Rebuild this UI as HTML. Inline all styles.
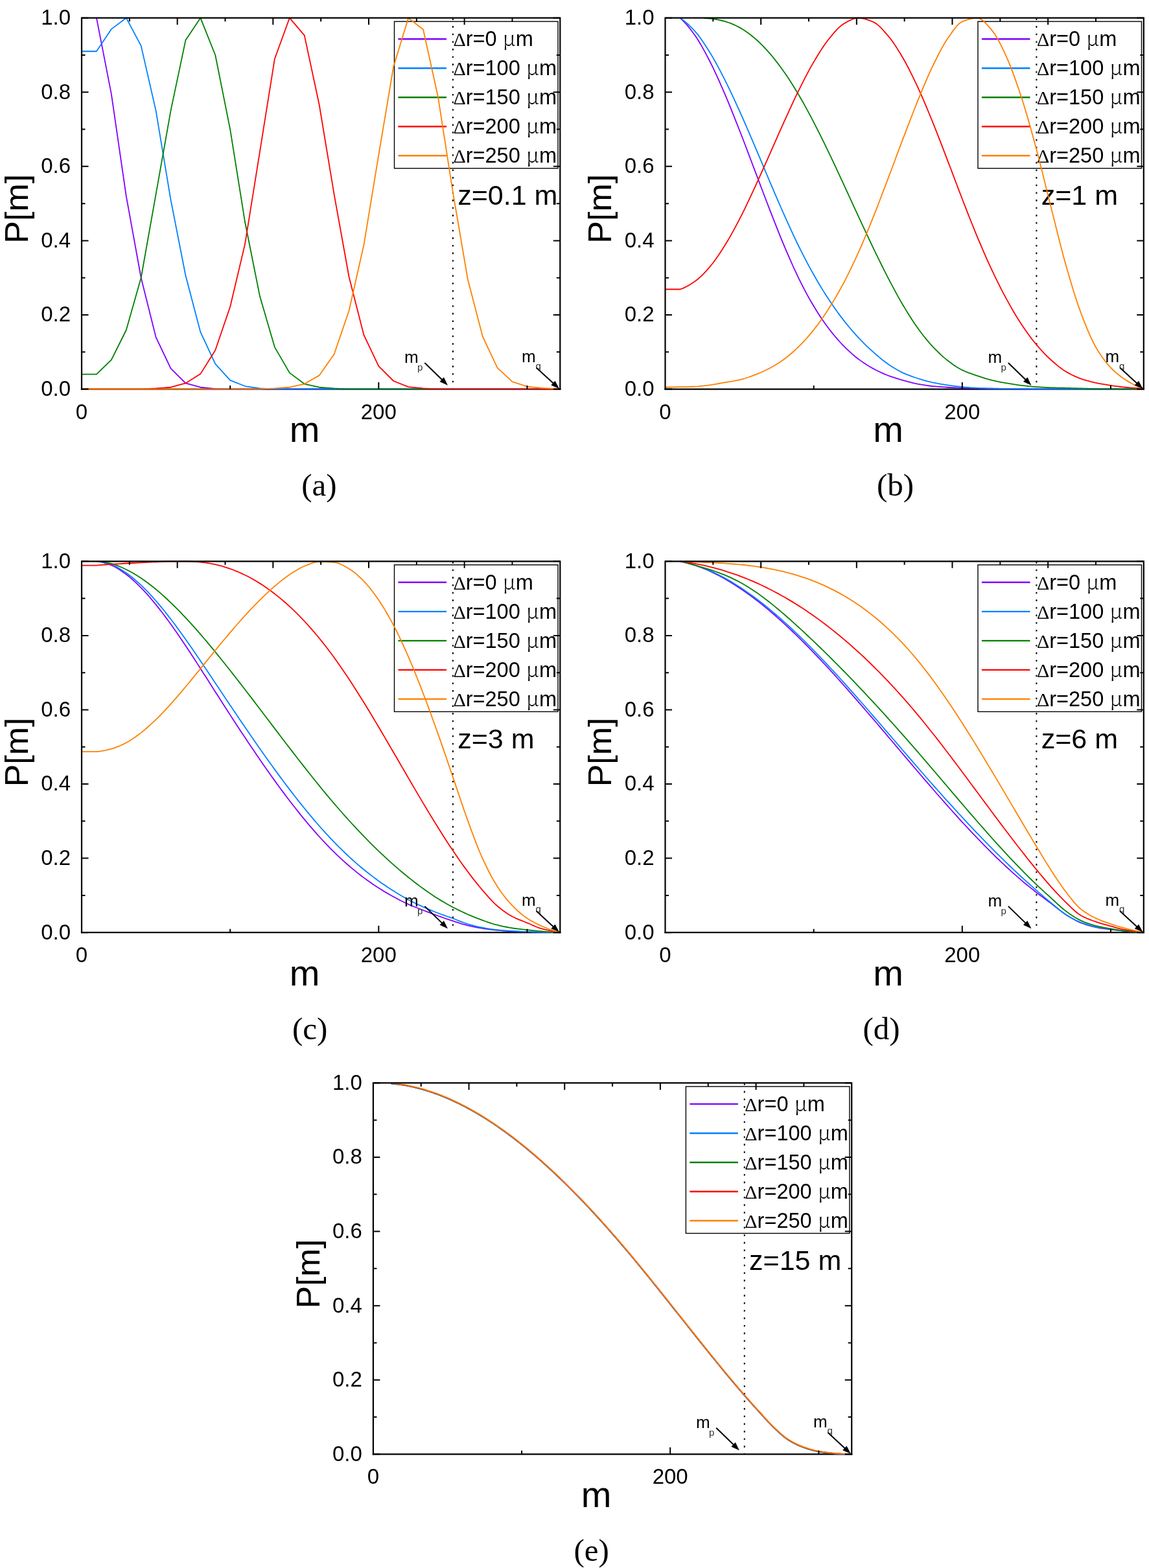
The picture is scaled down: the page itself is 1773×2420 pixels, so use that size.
<!DOCTYPE html>
<html><head><meta charset="utf-8"><title>P[m] vs m</title>
<style>
html,body{margin:0;padding:0;background:#fff;}
body{width:1773px;height:2420px;overflow:hidden;}
svg{display:block;}
</style></head>
<body>
<svg width="1773" height="2420" viewBox="0 0 1773 2420" font-family="&apos;Liberation Sans&apos;, Arial, sans-serif" fill="#000">
<rect width="1773" height="2420" fill="#fff"/>
<path d="M126 600.6H864.3" stroke="#000" stroke-width="2.2" stroke-linecap="square"/>
<text x="109" y="611" text-anchor="end" font-size="33">0.0</text>
<text x="109" y="496.42" text-anchor="end" font-size="33">0.2</text>
<text x="109" y="381.84" text-anchor="end" font-size="33">0.4</text>
<text x="109" y="267.26" text-anchor="end" font-size="33">0.6</text>
<text x="109" y="152.68" text-anchor="end" font-size="33">0.8</text>
<text x="109" y="38.1" text-anchor="end" font-size="33">1.0</text>
<text x="126" y="646.6" text-anchor="middle" font-size="33">0</text>
<text x="584.3" y="646.6" text-anchor="middle" font-size="33">200</text>
<text x="470.2" y="682.3" text-anchor="middle" font-size="56">m</text>
<text transform="translate(42.9 322.3) rotate(-90) scale(1.04 1)" text-anchor="middle" font-size="50">P[m]</text>
<rect x="608.5" y="33.2" width="252.5" height="226.6" fill="none" stroke="#000" stroke-width="1.4"/>
<path d="M614.4 60.2H689" stroke="#8000ff" stroke-width="2.4"/>
<text x="699.4" y="70.9" font-size="32.5"><tspan font-family="&apos;Liberation Serif&apos;, &apos;Times New Roman&apos;, serif" font-size="30">&#916;</tspan>r=0 <tspan font-family="&apos;Noto Serif CJK JP&apos;, &apos;Liberation Serif&apos;, serif" font-weight="300">&#956;</tspan>m</text>
<path d="M614.4 105.23H689" stroke="#0080ff" stroke-width="2.4"/>
<text x="699.4" y="115.93" font-size="32.5"><tspan font-family="&apos;Liberation Serif&apos;, &apos;Times New Roman&apos;, serif" font-size="30">&#916;</tspan>r=100 <tspan font-family="&apos;Noto Serif CJK JP&apos;, &apos;Liberation Serif&apos;, serif" font-weight="300">&#956;</tspan>m</text>
<path d="M614.4 150.26H689" stroke="#008000" stroke-width="2.4"/>
<text x="699.4" y="160.96" font-size="32.5"><tspan font-family="&apos;Liberation Serif&apos;, &apos;Times New Roman&apos;, serif" font-size="30">&#916;</tspan>r=150 <tspan font-family="&apos;Noto Serif CJK JP&apos;, &apos;Liberation Serif&apos;, serif" font-weight="300">&#956;</tspan>m</text>
<path d="M614.4 195.29H689" stroke="#ff0000" stroke-width="2.4"/>
<text x="699.4" y="205.99" font-size="32.5"><tspan font-family="&apos;Liberation Serif&apos;, &apos;Times New Roman&apos;, serif" font-size="30">&#916;</tspan>r=200 <tspan font-family="&apos;Noto Serif CJK JP&apos;, &apos;Liberation Serif&apos;, serif" font-weight="300">&#956;</tspan>m</text>
<path d="M614.4 240.32H689" stroke="#ff8000" stroke-width="2.4"/>
<text x="699.4" y="251.02" font-size="32.5"><tspan font-family="&apos;Liberation Serif&apos;, &apos;Times New Roman&apos;, serif" font-size="30">&#916;</tspan>r=250 <tspan font-family="&apos;Noto Serif CJK JP&apos;, &apos;Liberation Serif&apos;, serif" font-weight="300">&#956;</tspan>m</text>
<text x="706.2" y="316.3" font-size="43">z=0.1 m</text>
<path d="M698.88 600.6V27.7" stroke="#000" stroke-width="2" stroke-dasharray="2.6 9.05" stroke-dashoffset="1.3"/>
<path d="M148.91 27.7 L171.83 145.14 L194.75 302.69 L217.66 428.73 L240.57 520.39 L263.49 568.52 L286.4 591.43 L309.32 597.74 L332.24 600.03 L355.15 600.6 L378.06 600.6 L400.98 600.6 L423.9 600.6 L446.81 600.6 L469.73 600.6 L492.64 600.6 L515.56 600.6 L538.47 600.6 L561.38 600.6 L584.3 600.6 L607.22 600.6 L630.13 600.6 L653.05 600.6 L675.96 600.6 L698.88 600.6 L721.79 600.6 L744.71 600.6 L767.62 600.6 L790.54 600.6 L813.45 600.6 L836.37 600.6 L859.28 600.6 L864.3 600.6" stroke="#8000ff" stroke-width="1.8" fill="none" stroke-linejoin="round"/>
<path d="M126 79.26 L148.91 79.26 L171.83 44.89 L194.75 27.7 L217.66 70.67 L240.57 170.92 L263.49 308.42 L286.4 425.29 L309.32 512.37 L332.24 561.64 L355.15 586.85 L378.06 596.02 L400.98 599.45 L423.9 600.6 L446.81 600.6 L469.73 600.6 L492.64 600.6 L515.56 600.6 L538.47 600.6 L561.38 600.6 L584.3 600.6 L607.22 600.6 L630.13 600.6 L653.05 600.6 L675.96 600.6 L698.88 600.6 L721.79 600.6 L744.71 600.6 L767.62 600.6 L790.54 600.6 L813.45 600.6 L836.37 600.6 L859.28 600.6 L864.3 600.6" stroke="#0080ff" stroke-width="1.8" fill="none" stroke-linejoin="round"/>
<path d="M126 577.68 L148.91 577.68 L171.83 555.34 L194.75 509.51 L217.66 428.73 L240.57 299.83 L263.49 170.92 L286.4 62.07 L309.32 27.7 L332.24 84.99 L355.15 199.57 L378.06 342.8 L400.98 457.37 L423.9 535.86 L446.81 575.39 L469.73 592.58 L492.64 597.74 L515.56 599.45 L538.47 600.6 L561.38 600.6 L584.3 600.6 L607.22 600.6 L630.13 600.6 L653.05 600.6 L675.96 600.6 L698.88 600.6 L721.79 600.6 L744.71 600.6 L767.62 600.6 L790.54 600.6 L813.45 600.6 L836.37 600.6 L859.28 600.6 L864.3 600.6" stroke="#008000" stroke-width="1.8" fill="none" stroke-linejoin="round"/>
<path d="M126 600.6 L148.91 600.6 L171.83 600.6 L194.75 600.6 L217.66 600.6 L240.57 599.45 L263.49 597.74 L286.4 591.43 L309.32 577.11 L332.24 540.45 L355.15 473.42 L378.06 376.6 L400.98 233.94 L423.9 90.72 L446.81 27.7 L469.73 54.63 L492.64 161.76 L515.56 299.83 L538.47 427.01 L561.38 516.96 L584.3 565.08 L607.22 588 L630.13 597.16 L653.05 599.45 L675.96 600.6 L698.88 600.6 L721.79 600.6 L744.71 600.6 L767.62 600.6 L790.54 600.6 L813.45 600.6 L836.37 600.6 L859.28 600.6 L864.3 600.6" stroke="#ff0000" stroke-width="1.8" fill="none" stroke-linejoin="round"/>
<path d="M126 600.6 L148.91 600.6 L171.83 600.6 L194.75 600.6 L217.66 600.6 L240.57 600.6 L263.49 600.6 L286.4 600.6 L309.32 600.6 L332.24 600.6 L355.15 600.6 L378.06 600.6 L400.98 600.6 L423.9 599.45 L446.81 597.74 L469.73 592.58 L492.64 579.4 L515.56 546.75 L538.47 479.72 L561.38 378.31 L584.3 239.1 L607.22 102.75 L630.13 27.7 L653.05 45.46 L675.96 149.73 L698.88 296.96 L721.79 431.02 L744.71 519.25 L767.62 567.94 L790.54 589.14 L813.45 596.59 L836.37 598.88 L859.28 600.03 L864.3 600.03" stroke="#ff8000" stroke-width="1.8" fill="none" stroke-linejoin="round"/>
<path d="M126 600.6V27.7H864.3V600.6" fill="none" stroke="#000" stroke-width="2.2" stroke-linecap="square"/>
<path d="M126 600.6h10.5 M864.3 600.6h-10.5 M126 543.31h5.5 M864.3 543.31h-5.5 M126 486.02h10.5 M864.3 486.02h-10.5 M126 428.73h5.5 M864.3 428.73h-5.5 M126 371.44h10.5 M864.3 371.44h-10.5 M126 314.15h5.5 M864.3 314.15h-5.5 M126 256.86h10.5 M864.3 256.86h-10.5 M126 199.57h5.5 M864.3 199.57h-5.5 M126 142.28h10.5 M864.3 142.28h-10.5 M126 84.99h5.5 M864.3 84.99h-5.5 M126 27.7h10.5 M864.3 27.7h-10.5 M355.15 600.6v-5.5 M584.3 600.6v-10.5 M813.45 600.6v-5.5 M199.83 27.7v5.5 M273.66 27.7v10.5 M347.49 27.7v5.5 M421.32 27.7v10.5 M495.15 27.7v5.5 M568.98 27.7v10.5 M642.81 27.7v5.5 M716.64 27.7v10.5 M790.47 27.7v5.5" stroke="#000" stroke-width="2" fill="none"/>
<text x="624" y="560.3" font-size="26">m</text>
<text x="644" y="571.9" font-size="15" fill="#333">p</text>
<path d="M655.3 560L683.11 587.03" stroke="#000" stroke-width="2"/>
<path d="M691 594.7L678.47 588.94L684.88 582.34Z" fill="#000"/>
<text x="805" y="559.2" font-size="26">m</text>
<text x="826.6" y="569.7" font-size="15" fill="#333">q</text>
<path d="M827.6 567.4L854.91 592.55" stroke="#000" stroke-width="2"/>
<path d="M863 600L850.32 594.58L856.55 587.81Z" fill="#000"/>
<text x="492.5" y="765.3" text-anchor="middle" font-size="49" font-family="&apos;Liberation Serif&apos;, &apos;Times New Roman&apos;, serif">(a)</text>
<path d="M1026.5 600.6H1764.8" stroke="#000" stroke-width="2.2" stroke-linecap="square"/>
<text x="1009.5" y="611" text-anchor="end" font-size="33">0.0</text>
<text x="1009.5" y="496.42" text-anchor="end" font-size="33">0.2</text>
<text x="1009.5" y="381.84" text-anchor="end" font-size="33">0.4</text>
<text x="1009.5" y="267.26" text-anchor="end" font-size="33">0.6</text>
<text x="1009.5" y="152.68" text-anchor="end" font-size="33">0.8</text>
<text x="1009.5" y="38.1" text-anchor="end" font-size="33">1.0</text>
<text x="1026.5" y="646.6" text-anchor="middle" font-size="33">0</text>
<text x="1484.8" y="646.6" text-anchor="middle" font-size="33">200</text>
<text x="1370.7" y="682.3" text-anchor="middle" font-size="56">m</text>
<text transform="translate(943.4 322.3) rotate(-90) scale(1.04 1)" text-anchor="middle" font-size="50">P[m]</text>
<rect x="1509" y="33.2" width="252.5" height="226.6" fill="none" stroke="#000" stroke-width="1.4"/>
<path d="M1514.9 60.2H1589.5" stroke="#8000ff" stroke-width="2.4"/>
<text x="1599.9" y="70.9" font-size="32.5"><tspan font-family="&apos;Liberation Serif&apos;, &apos;Times New Roman&apos;, serif" font-size="30">&#916;</tspan>r=0 <tspan font-family="&apos;Noto Serif CJK JP&apos;, &apos;Liberation Serif&apos;, serif" font-weight="300">&#956;</tspan>m</text>
<path d="M1514.9 105.23H1589.5" stroke="#0080ff" stroke-width="2.4"/>
<text x="1599.9" y="115.93" font-size="32.5"><tspan font-family="&apos;Liberation Serif&apos;, &apos;Times New Roman&apos;, serif" font-size="30">&#916;</tspan>r=100 <tspan font-family="&apos;Noto Serif CJK JP&apos;, &apos;Liberation Serif&apos;, serif" font-weight="300">&#956;</tspan>m</text>
<path d="M1514.9 150.26H1589.5" stroke="#008000" stroke-width="2.4"/>
<text x="1599.9" y="160.96" font-size="32.5"><tspan font-family="&apos;Liberation Serif&apos;, &apos;Times New Roman&apos;, serif" font-size="30">&#916;</tspan>r=150 <tspan font-family="&apos;Noto Serif CJK JP&apos;, &apos;Liberation Serif&apos;, serif" font-weight="300">&#956;</tspan>m</text>
<path d="M1514.9 195.29H1589.5" stroke="#ff0000" stroke-width="2.4"/>
<text x="1599.9" y="205.99" font-size="32.5"><tspan font-family="&apos;Liberation Serif&apos;, &apos;Times New Roman&apos;, serif" font-size="30">&#916;</tspan>r=200 <tspan font-family="&apos;Noto Serif CJK JP&apos;, &apos;Liberation Serif&apos;, serif" font-weight="300">&#956;</tspan>m</text>
<path d="M1514.9 240.32H1589.5" stroke="#ff8000" stroke-width="2.4"/>
<text x="1599.9" y="251.02" font-size="32.5"><tspan font-family="&apos;Liberation Serif&apos;, &apos;Times New Roman&apos;, serif" font-size="30">&#916;</tspan>r=250 <tspan font-family="&apos;Noto Serif CJK JP&apos;, &apos;Liberation Serif&apos;, serif" font-weight="300">&#956;</tspan>m</text>
<text x="1606.7" y="316.3" font-size="43">z=1 m</text>
<path d="M1599.38 600.6V27.7" stroke="#000" stroke-width="2" stroke-dasharray="2.6 9.05" stroke-dashoffset="1.3"/>
<path d="M1049.41 27.7 L1054 32.04 L1058.58 36.95 L1063.16 42.37 L1067.75 48.23 L1072.33 54.48 L1076.91 61.33 L1081.5 68.92 L1086.08 77.09 L1090.66 85.67 L1095.24 94.49 L1099.83 103.67 L1104.41 113.37 L1108.99 123.46 L1113.58 133.85 L1118.16 144.41 L1122.74 155.22 L1127.33 166.38 L1131.91 177.79 L1136.49 189.36 L1141.08 201.01 L1145.66 212.79 L1150.24 224.77 L1154.82 236.86 L1159.41 248.99 L1163.99 261.08 L1168.57 273.18 L1173.16 285.34 L1177.74 297.49 L1182.32 309.54 L1186.9 321.42 L1191.49 333.18 L1196.07 344.89 L1200.65 356.45 L1205.24 367.79 L1209.82 378.8 L1214.4 389.57 L1218.99 400.16 L1223.57 410.49 L1228.15 420.47 L1232.74 430.02 L1237.32 439.18 L1241.9 448.04 L1246.48 456.59 L1251.07 464.77 L1255.65 472.56 L1260.23 480 L1264.82 487.16 L1269.4 494.01 L1273.98 500.55 L1278.57 506.73 L1283.15 512.63 L1287.73 518.27 L1292.31 523.65 L1296.9 528.75 L1301.48 533.55 L1306.06 538.1 L1310.65 542.45 L1315.23 546.57 L1319.81 550.44 L1324.39 554.03 L1328.98 557.37 L1333.56 560.53 L1338.14 563.5 L1342.73 566.28 L1347.31 568.85 L1351.89 571.27 L1356.48 573.54 L1361.06 575.68 L1365.64 577.66 L1370.22 579.48 L1374.81 581.16 L1379.39 582.71 L1383.97 584.16 L1388.56 585.54 L1393.14 586.85 L1397.72 588.13 L1402.31 589.38 L1406.89 590.56 L1411.47 591.64 L1416.06 592.58 L1420.64 593.41 L1425.22 594.19 L1429.8 594.89 L1434.39 595.5 L1438.97 596.02 L1443.55 596.44 L1448.14 596.82 L1452.72 597.15 L1457.3 597.45 L1461.88 597.74 L1466.47 598.01 L1471.05 598.26 L1475.63 598.5 L1480.22 598.71 L1484.8 598.88 L1489.38 599.02 L1493.97 599.14 L1498.55 599.24 L1503.13 599.35 L1507.72 599.45 L1512.3 599.59 L1516.88 599.74 L1521.46 599.88 L1526.05 599.99 L1530.63 600.03 L1535.21 600.03 L1539.8 600.03 L1544.38 600.03 L1548.96 600.03 L1553.55 600.03 L1558.13 600.09 L1562.71 600.23 L1567.29 600.4 L1571.88 600.54 L1576.46 600.6 L1581.04 600.6 L1585.63 600.6 L1590.21 600.6 L1594.79 600.6 L1599.38 600.6 L1603.96 600.6 L1608.54 600.6 L1613.12 600.6 L1617.71 600.6 L1622.29 600.6 L1626.87 600.6 L1631.46 600.6 L1636.04 600.6 L1640.62 600.6 L1645.2 600.6 L1649.79 600.6 L1654.37 600.6 L1658.95 600.6 L1663.54 600.6 L1668.12 600.6 L1672.7 600.6 L1677.29 600.6 L1681.87 600.6 L1686.45 600.6 L1691.04 600.6 L1695.62 600.6 L1700.2 600.6 L1704.78 600.6 L1709.37 600.6 L1713.95 600.6 L1718.53 600.6 L1723.12 600.6 L1727.7 600.6 L1732.28 600.6 L1736.87 600.6 L1741.45 600.6 L1746.03 600.6 L1750.61 600.6 L1755.2 600.6 L1759.78 600.6 L1764.8 600.6" stroke="#8000ff" stroke-width="1.8" fill="none" stroke-linejoin="round"/>
<path d="M1049.41 27.7 L1054 30.89 L1058.58 34.6 L1063.16 38.77 L1067.75 43.34 L1072.33 48.23 L1076.91 53.66 L1081.5 59.79 L1086.08 66.46 L1090.66 73.5 L1095.24 80.77 L1099.83 88.37 L1104.41 96.46 L1108.99 104.93 L1113.58 113.69 L1118.16 122.62 L1122.74 131.81 L1127.33 141.34 L1131.91 151.13 L1136.49 161.11 L1141.08 171.19 L1145.66 181.42 L1150.24 191.88 L1154.82 202.48 L1159.41 213.16 L1163.99 223.86 L1168.57 234.61 L1173.16 245.47 L1177.74 256.37 L1182.32 267.25 L1186.9 278.03 L1191.49 288.78 L1196.07 299.53 L1200.65 310.21 L1205.24 320.76 L1209.82 331.11 L1214.4 341.31 L1218.99 351.42 L1223.57 361.35 L1228.15 371.07 L1232.74 380.49 L1237.32 389.65 L1241.9 398.62 L1246.48 407.35 L1251.07 415.84 L1255.65 424.06 L1260.23 432.04 L1264.82 439.81 L1269.4 447.35 L1273.98 454.66 L1278.57 461.73 L1283.15 468.57 L1287.73 475.22 L1292.31 481.66 L1296.9 487.88 L1301.48 493.88 L1306.06 499.66 L1310.65 505.27 L1315.23 510.69 L1319.81 515.9 L1324.39 520.9 L1328.98 525.7 L1333.56 530.32 L1338.14 534.78 L1342.73 539.07 L1347.31 543.2 L1351.89 547.24 L1356.48 551.18 L1361.06 554.96 L1365.64 558.53 L1370.22 561.82 L1374.81 564.9 L1379.39 567.82 L1383.97 570.56 L1388.56 573.08 L1393.14 575.34 L1397.72 577.35 L1402.31 579.2 L1406.89 580.9 L1411.47 582.49 L1416.06 583.99 L1420.64 585.42 L1425.22 586.78 L1429.8 588.06 L1434.39 589.24 L1438.97 590.29 L1443.55 591.23 L1448.14 592.08 L1452.72 592.88 L1457.3 593.61 L1461.88 594.3 L1466.47 594.96 L1471.05 595.58 L1475.63 596.17 L1480.22 596.7 L1484.8 597.16 L1489.38 597.59 L1493.97 597.99 L1498.55 598.36 L1503.13 598.66 L1507.72 598.88 L1512.3 599.03 L1516.88 599.15 L1521.46 599.25 L1526.05 599.35 L1530.63 599.45 L1535.21 599.59 L1539.8 599.74 L1544.38 599.88 L1548.96 599.99 L1553.55 600.03 L1558.13 600.03 L1562.71 600.03 L1567.29 600.03 L1571.88 600.03 L1576.46 600.03 L1581.04 600.09 L1585.63 600.23 L1590.21 600.4 L1594.79 600.54 L1599.38 600.6 L1603.96 600.6 L1608.54 600.6 L1613.12 600.6 L1617.71 600.6 L1622.29 600.6 L1626.87 600.6 L1631.46 600.6 L1636.04 600.6 L1640.62 600.6 L1645.2 600.6 L1649.79 600.6 L1654.37 600.6 L1658.95 600.6 L1663.54 600.6 L1668.12 600.6 L1672.7 600.6 L1677.29 600.6 L1681.87 600.6 L1686.45 600.6 L1691.04 600.6 L1695.62 600.6 L1700.2 600.6 L1704.78 600.6 L1709.37 600.6 L1713.95 600.6 L1718.53 600.6 L1723.12 600.6 L1727.7 600.6 L1732.28 600.6 L1736.87 600.6 L1741.45 600.6 L1746.03 600.6 L1750.61 600.6 L1755.2 600.6 L1759.78 600.6 L1764.8 600.6" stroke="#0080ff" stroke-width="1.8" fill="none" stroke-linejoin="round"/>
<path d="M1086.08 28.06 L1090.66 28.31 L1095.24 28.59 L1099.83 29.04 L1104.41 29.75 L1108.99 30.68 L1113.58 31.75 L1118.16 32.91 L1122.74 34.27 L1127.33 35.95 L1131.91 37.9 L1136.49 40.06 L1141.08 42.38 L1145.66 44.98 L1150.24 47.96 L1154.82 51.25 L1159.41 54.79 L1163.99 58.51 L1168.57 62.49 L1173.16 66.83 L1177.74 71.47 L1182.32 76.36 L1186.9 81.44 L1191.49 86.78 L1196.07 92.44 L1200.65 98.38 L1205.24 104.57 L1209.82 110.96 L1214.4 117.61 L1218.99 124.55 L1223.57 131.77 L1228.15 139.21 L1232.74 146.85 L1237.32 154.74 L1241.9 162.91 L1246.48 171.32 L1251.07 179.92 L1255.65 188.64 L1260.23 197.55 L1264.82 206.66 L1269.4 215.95 L1273.98 225.36 L1278.57 234.84 L1283.15 244.42 L1287.73 254.14 L1292.31 263.95 L1296.9 273.81 L1301.48 283.68 L1306.06 293.59 L1310.65 303.56 L1315.23 313.55 L1319.81 323.52 L1324.39 333.42 L1328.98 343.3 L1333.56 353.17 L1338.14 362.99 L1342.73 372.71 L1347.31 382.3 L1351.89 391.79 L1356.48 401.21 L1361.06 410.52 L1365.64 419.65 L1370.22 428.57 L1374.81 437.32 L1379.39 445.95 L1383.97 454.39 L1388.56 462.58 L1393.14 470.47 L1397.72 478.12 L1402.31 485.59 L1406.89 492.81 L1411.47 499.72 L1416.06 506.25 L1420.64 512.47 L1425.22 518.45 L1429.8 524.15 L1434.39 529.55 L1438.97 534.61 L1443.55 539.4 L1448.14 543.98 L1452.72 548.31 L1457.3 552.35 L1461.88 556.08 L1466.47 559.57 L1471.05 562.9 L1475.63 565.99 L1480.22 568.78 L1484.8 571.19 L1489.38 573.25 L1493.97 575.07 L1498.55 576.72 L1503.13 578.28 L1507.72 579.82 L1512.3 581.36 L1516.88 582.88 L1521.46 584.32 L1526.05 585.66 L1530.63 586.85 L1535.21 587.91 L1539.8 588.89 L1544.38 589.79 L1548.96 590.63 L1553.55 591.43 L1558.13 592.21 L1562.71 592.95 L1567.29 593.64 L1571.88 594.29 L1576.46 594.87 L1581.04 595.41 L1585.63 595.93 L1590.21 596.4 L1594.79 596.82 L1599.38 597.16 L1603.96 597.45 L1608.54 597.71 L1613.12 597.94 L1617.71 598.14 L1622.29 598.31 L1626.87 598.45 L1631.46 598.57 L1636.04 598.67 L1640.62 598.77 L1645.2 598.88 L1649.79 599 L1654.37 599.11 L1658.95 599.23 L1663.54 599.34 L1668.12 599.45 L1672.7 599.59 L1677.29 599.74 L1681.87 599.88 L1686.45 599.99 L1691.04 600.03 L1695.62 600.03 L1700.2 600.03 L1704.78 600.03 L1709.37 600.03 L1713.95 600.03 L1718.53 600.09 L1723.12 600.23 L1727.7 600.4 L1732.28 600.54 L1736.87 600.6 L1741.45 600.6 L1746.03 600.6 L1750.61 600.6 L1755.2 600.6 L1759.78 600.6 L1764.8 600.6" stroke="#008000" stroke-width="1.8" fill="none" stroke-linejoin="round"/>
<path d="M1026.5 446.49 L1049.41 446.49 L1054 444.81 L1058.58 442.68 L1063.16 440.16 L1067.75 437.34 L1072.33 434.27 L1076.91 430.76 L1081.5 426.65 L1086.08 422.06 L1090.66 417.09 L1095.24 411.87 L1099.83 406.25 L1104.41 400.08 L1108.99 393.46 L1113.58 386.51 L1118.16 379.33 L1122.74 371.84 L1127.33 363.91 L1131.91 355.63 L1136.49 347.09 L1141.08 338.36 L1145.66 329.36 L1150.24 320.04 L1154.82 310.46 L1159.41 300.71 L1163.99 290.88 L1168.57 280.91 L1173.16 270.73 L1177.74 260.43 L1182.32 250.08 L1186.9 239.77 L1191.49 229.43 L1196.07 219.03 L1200.65 208.62 L1205.24 198.3 L1209.82 188.13 L1214.4 178.07 L1218.99 168.05 L1223.57 158.15 L1228.15 148.47 L1232.74 139.08 L1237.32 129.91 L1241.9 120.89 L1246.48 112.11 L1251.07 103.67 L1255.65 95.67 L1260.23 87.99 L1264.82 80.51 L1269.4 73.38 L1273.98 66.74 L1278.57 60.73 L1283.15 55.09 L1287.73 49.62 L1292.31 44.61 L1296.9 40.33 L1301.48 37.05 L1306.06 34.37 L1310.65 31.83 L1315.23 29.71 L1319.81 28.24 L1324.39 27.7 L1328.98 28.03 L1333.56 28.94 L1338.14 30.29 L1342.73 31.96 L1347.31 33.81 L1351.89 36.4 L1356.48 40.15 L1361.06 44.73 L1365.64 49.81 L1370.22 55.07 L1374.81 60.73 L1379.39 67.13 L1383.97 74.11 L1388.56 81.52 L1393.14 89.21 L1397.72 97.3 L1402.31 105.96 L1406.89 115.08 L1411.47 124.55 L1416.06 134.26 L1420.64 144.32 L1425.22 154.83 L1429.8 165.67 L1434.39 176.75 L1438.97 187.96 L1443.55 199.36 L1448.14 211.05 L1452.72 222.91 L1457.3 234.87 L1461.88 246.81 L1466.47 258.8 L1471.05 270.91 L1475.63 283.05 L1480.22 295.11 L1484.8 307.02 L1489.38 318.82 L1493.97 330.59 L1498.55 342.23 L1503.13 353.66 L1507.72 364.8 L1512.3 375.68 L1516.88 386.37 L1521.46 396.84 L1526.05 407.03 L1530.63 416.92 L1535.21 426.54 L1539.8 435.93 L1544.38 445.07 L1548.96 453.92 L1553.55 462.44 L1558.13 470.68 L1562.71 478.7 L1567.29 486.45 L1571.88 493.89 L1576.46 500.97 L1581.04 507.76 L1585.63 514.31 L1590.21 520.58 L1594.79 526.54 L1599.38 532.14 L1603.96 537.43 L1608.54 542.47 L1613.12 547.26 L1617.71 551.77 L1622.29 556 L1626.87 560.03 L1631.46 563.92 L1636.04 567.57 L1640.62 570.89 L1645.2 573.81 L1649.79 576.39 L1654.37 578.76 L1658.95 580.92 L1663.54 582.85 L1668.12 584.56 L1672.7 586.07 L1677.29 587.45 L1681.87 588.7 L1686.45 589.83 L1691.04 590.86 L1695.62 591.8 L1700.2 592.66 L1704.78 593.45 L1709.37 594.18 L1713.95 594.87 L1718.53 595.53 L1723.12 596.15 L1727.7 596.74 L1732.28 597.27 L1736.87 597.74 L1741.45 598.15 L1746.03 598.54 L1750.61 598.89 L1755.2 599.2 L1759.78 599.45 L1764.8 599.45" stroke="#ff0000" stroke-width="1.8" fill="none" stroke-linejoin="round"/>
<path d="M1026.5 597.74 L1049.41 597.16 L1054 597.13 L1058.58 597.05 L1063.16 596.92 L1067.75 596.77 L1072.33 596.59 L1076.91 596.33 L1081.5 595.93 L1086.08 595.44 L1090.66 594.88 L1095.24 594.3 L1099.83 593.64 L1104.41 592.85 L1108.99 592 L1113.58 591.12 L1118.16 590.29 L1122.74 589.52 L1127.33 588.8 L1131.91 588.05 L1136.49 587.23 L1141.08 586.28 L1145.66 585.12 L1150.24 583.75 L1154.82 582.23 L1159.41 580.59 L1163.99 578.9 L1168.57 577.13 L1173.16 575.24 L1177.74 573.22 L1182.32 571.06 L1186.9 568.76 L1191.49 566.28 L1196.07 563.59 L1200.65 560.72 L1205.24 557.66 L1209.82 554.43 L1214.4 550.97 L1218.99 547.25 L1223.57 543.28 L1228.15 539.1 L1232.74 534.73 L1237.32 530.13 L1241.9 525.23 L1246.48 520.07 L1251.07 514.67 L1255.65 509.06 L1260.23 503.17 L1264.82 496.98 L1269.4 490.51 L1273.98 483.76 L1278.57 476.78 L1283.15 469.51 L1287.73 461.91 L1292.31 454 L1296.9 445.81 L1301.48 437.35 L1306.06 428.57 L1310.65 419.43 L1315.23 409.97 L1319.81 400.21 L1324.39 390.2 L1328.98 379.85 L1333.56 369.11 L1338.14 358.07 L1342.73 346.83 L1347.31 335.45 L1351.89 323.87 L1356.48 312.04 L1361.06 300.03 L1365.64 287.94 L1370.22 275.86 L1374.81 263.71 L1379.39 251.46 L1383.97 239.18 L1388.56 226.95 L1393.14 214.86 L1397.72 202.84 L1402.31 190.84 L1406.89 178.95 L1411.47 167.27 L1416.06 155.89 L1420.64 144.71 L1425.22 133.64 L1429.8 122.85 L1434.39 112.48 L1438.97 102.68 L1443.55 93.25 L1448.14 84.04 L1452.72 75.28 L1457.3 67.23 L1461.88 60.11 L1466.47 53.42 L1471.05 46.86 L1475.63 40.97 L1480.22 36.29 L1484.8 33.36 L1489.38 31.58 L1493.97 30.02 L1498.55 28.8 L1503.13 27.99 L1507.72 27.7 L1512.3 28.84 L1516.88 31.87 L1521.46 36.24 L1526.05 41.37 L1530.63 46.7 L1535.21 52.84 L1539.8 60.51 L1544.38 69.33 L1548.96 78.93 L1553.55 88.93 L1558.13 99.62 L1562.71 111.42 L1567.29 124.1 L1571.88 137.46 L1576.46 151.27 L1581.04 165.75 L1585.63 181.13 L1590.21 197.2 L1594.79 213.79 L1599.38 230.68 L1603.96 248.15 L1608.54 266.37 L1613.12 284.98 L1617.71 303.61 L1622.29 321.9 L1626.87 340.11 L1631.46 358.48 L1636.04 376.62 L1640.62 394.18 L1645.2 410.78 L1649.79 426.62 L1654.37 442.01 L1658.95 456.75 L1663.54 470.62 L1668.12 483.43 L1672.7 495.43 L1677.29 506.91 L1681.87 517.64 L1686.45 527.39 L1691.04 535.95 L1695.62 543.53 L1700.2 550.48 L1704.78 556.8 L1709.37 562.48 L1713.95 567.51 L1718.53 572.01 L1723.12 576.1 L1727.7 579.82 L1732.28 583.2 L1736.87 586.28 L1741.45 589.13 L1746.03 591.79 L1750.61 594.23 L1755.2 596.42 L1759.78 598.31 L1764.8 598.31" stroke="#ff8000" stroke-width="1.8" fill="none" stroke-linejoin="round"/>
<path d="M1026.5 600.6V27.7H1764.8V600.6" fill="none" stroke="#000" stroke-width="2.2" stroke-linecap="square"/>
<path d="M1026.5 600.6h10.5 M1764.8 600.6h-10.5 M1026.5 543.31h5.5 M1764.8 543.31h-5.5 M1026.5 486.02h10.5 M1764.8 486.02h-10.5 M1026.5 428.73h5.5 M1764.8 428.73h-5.5 M1026.5 371.44h10.5 M1764.8 371.44h-10.5 M1026.5 314.15h5.5 M1764.8 314.15h-5.5 M1026.5 256.86h10.5 M1764.8 256.86h-10.5 M1026.5 199.57h5.5 M1764.8 199.57h-5.5 M1026.5 142.28h10.5 M1764.8 142.28h-10.5 M1026.5 84.99h5.5 M1764.8 84.99h-5.5 M1026.5 27.7h10.5 M1764.8 27.7h-10.5 M1255.65 600.6v-5.5 M1484.8 600.6v-10.5 M1713.95 600.6v-5.5 M1100.33 27.7v5.5 M1174.16 27.7v10.5 M1247.99 27.7v5.5 M1321.82 27.7v10.5 M1395.65 27.7v5.5 M1469.48 27.7v10.5 M1543.31 27.7v5.5 M1617.14 27.7v10.5 M1690.97 27.7v5.5" stroke="#000" stroke-width="2" fill="none"/>
<text x="1524.5" y="560.3" font-size="26">m</text>
<text x="1544.5" y="571.9" font-size="15" fill="#333">p</text>
<path d="M1555.8 560L1583.61 587.03" stroke="#000" stroke-width="2"/>
<path d="M1591.5 594.7L1578.97 588.94L1585.38 582.34Z" fill="#000"/>
<text x="1705.5" y="559.2" font-size="26">m</text>
<text x="1727.1" y="569.7" font-size="15" fill="#333">q</text>
<path d="M1728.1 567.4L1755.41 592.55" stroke="#000" stroke-width="2"/>
<path d="M1763.5 600L1750.82 594.58L1757.05 587.81Z" fill="#000"/>
<text x="1381.5" y="765.3" text-anchor="middle" font-size="49" font-family="&apos;Liberation Serif&apos;, &apos;Times New Roman&apos;, serif">(b)</text>
<path d="M126 1439.2H864.3" stroke="#000" stroke-width="2.2" stroke-linecap="square"/>
<text x="109" y="1449.6" text-anchor="end" font-size="33">0.0</text>
<text x="109" y="1335.02" text-anchor="end" font-size="33">0.2</text>
<text x="109" y="1220.44" text-anchor="end" font-size="33">0.4</text>
<text x="109" y="1105.86" text-anchor="end" font-size="33">0.6</text>
<text x="109" y="991.28" text-anchor="end" font-size="33">0.8</text>
<text x="109" y="876.7" text-anchor="end" font-size="33">1.0</text>
<text x="126" y="1485.2" text-anchor="middle" font-size="33">0</text>
<text x="584.3" y="1485.2" text-anchor="middle" font-size="33">200</text>
<text x="470.2" y="1520.9" text-anchor="middle" font-size="56">m</text>
<text transform="translate(42.9 1160.9) rotate(-90) scale(1.04 1)" text-anchor="middle" font-size="50">P[m]</text>
<rect x="608.5" y="871.8" width="252.5" height="226.6" fill="none" stroke="#000" stroke-width="1.4"/>
<path d="M614.4 898.8H689" stroke="#8000ff" stroke-width="2.4"/>
<text x="699.4" y="909.5" font-size="32.5"><tspan font-family="&apos;Liberation Serif&apos;, &apos;Times New Roman&apos;, serif" font-size="30">&#916;</tspan>r=0 <tspan font-family="&apos;Noto Serif CJK JP&apos;, &apos;Liberation Serif&apos;, serif" font-weight="300">&#956;</tspan>m</text>
<path d="M614.4 943.83H689" stroke="#0080ff" stroke-width="2.4"/>
<text x="699.4" y="954.53" font-size="32.5"><tspan font-family="&apos;Liberation Serif&apos;, &apos;Times New Roman&apos;, serif" font-size="30">&#916;</tspan>r=100 <tspan font-family="&apos;Noto Serif CJK JP&apos;, &apos;Liberation Serif&apos;, serif" font-weight="300">&#956;</tspan>m</text>
<path d="M614.4 988.86H689" stroke="#008000" stroke-width="2.4"/>
<text x="699.4" y="999.56" font-size="32.5"><tspan font-family="&apos;Liberation Serif&apos;, &apos;Times New Roman&apos;, serif" font-size="30">&#916;</tspan>r=150 <tspan font-family="&apos;Noto Serif CJK JP&apos;, &apos;Liberation Serif&apos;, serif" font-weight="300">&#956;</tspan>m</text>
<path d="M614.4 1033.89H689" stroke="#ff0000" stroke-width="2.4"/>
<text x="699.4" y="1044.59" font-size="32.5"><tspan font-family="&apos;Liberation Serif&apos;, &apos;Times New Roman&apos;, serif" font-size="30">&#916;</tspan>r=200 <tspan font-family="&apos;Noto Serif CJK JP&apos;, &apos;Liberation Serif&apos;, serif" font-weight="300">&#956;</tspan>m</text>
<path d="M614.4 1078.92H689" stroke="#ff8000" stroke-width="2.4"/>
<text x="699.4" y="1089.62" font-size="32.5"><tspan font-family="&apos;Liberation Serif&apos;, &apos;Times New Roman&apos;, serif" font-size="30">&#916;</tspan>r=250 <tspan font-family="&apos;Noto Serif CJK JP&apos;, &apos;Liberation Serif&apos;, serif" font-weight="300">&#956;</tspan>m</text>
<text x="706.2" y="1154.9" font-size="43">z=3 m</text>
<path d="M698.88 1439.2V866.3" stroke="#000" stroke-width="2" stroke-dasharray="2.6 9.05" stroke-dashoffset="1.3"/>
<path d="M148.91 866.3 L153.5 866.94 L158.08 867.95 L162.66 869.26 L167.25 870.78 L171.83 872.44 L176.41 874.47 L181 877.03 L185.58 879.98 L190.16 883.2 L194.75 886.53 L199.33 890.08 L203.91 893.99 L208.49 898.18 L213.08 902.59 L217.66 907.14 L222.24 911.89 L226.83 916.91 L231.41 922.16 L235.99 927.58 L240.57 933.12 L245.16 938.82 L249.74 944.73 L254.32 950.81 L258.91 957.02 L263.49 963.32 L268.07 969.73 L272.66 976.3 L277.24 982.98 L281.82 989.75 L286.4 996.58 L290.99 1003.47 L295.57 1010.47 L300.15 1017.53 L304.74 1024.63 L309.32 1031.75 L313.9 1038.89 L318.49 1046.08 L323.07 1053.29 L327.65 1060.5 L332.24 1067.68 L336.82 1074.85 L341.4 1082.01 L345.98 1089.16 L350.57 1096.28 L355.15 1103.37 L359.73 1110.42 L364.32 1117.45 L368.9 1124.46 L373.48 1131.42 L378.06 1138.33 L382.65 1145.21 L387.23 1152.05 L391.81 1158.84 L396.4 1165.59 L400.98 1172.27 L405.56 1178.9 L410.15 1185.48 L414.73 1192.01 L419.31 1198.47 L423.9 1204.85 L428.48 1211.17 L433.06 1217.43 L437.64 1223.62 L442.23 1229.73 L446.81 1235.76 L451.39 1241.7 L455.98 1247.57 L460.56 1253.37 L465.14 1259.07 L469.73 1264.66 L474.31 1270.17 L478.89 1275.59 L483.47 1280.92 L488.06 1286.15 L492.64 1291.25 L497.22 1296.25 L501.81 1301.16 L506.39 1305.96 L510.97 1310.64 L515.56 1315.2 L520.14 1319.63 L524.72 1323.96 L529.3 1328.18 L533.89 1332.29 L538.47 1336.27 L543.05 1340.15 L547.64 1343.93 L552.22 1347.6 L556.8 1351.17 L561.38 1354.62 L565.97 1357.98 L570.55 1361.25 L575.13 1364.42 L579.72 1367.5 L584.3 1370.48 L588.88 1373.36 L593.47 1376.17 L598.05 1378.89 L602.63 1381.52 L607.22 1384.07 L611.8 1386.54 L616.38 1388.96 L620.96 1391.29 L625.55 1393.52 L630.13 1395.63 L634.71 1397.6 L639.3 1399.46 L643.88 1401.25 L648.46 1403.01 L653.05 1404.78 L657.63 1406.56 L662.21 1408.33 L666.79 1410.07 L671.38 1411.79 L675.96 1413.47 L680.54 1415.13 L685.13 1416.76 L689.71 1418.36 L694.29 1419.91 L698.88 1421.42 L703.46 1422.91 L708.04 1424.38 L712.62 1425.8 L717.21 1427.13 L721.79 1428.31 L726.37 1429.38 L730.96 1430.38 L735.54 1431.31 L740.12 1432.15 L744.71 1432.9 L749.29 1433.58 L753.87 1434.21 L758.45 1434.78 L763.04 1435.3 L767.62 1435.76 L772.2 1436.19 L776.79 1436.59 L781.37 1436.96 L785.95 1437.26 L790.54 1437.48 L795.12 1437.63 L799.7 1437.75 L804.28 1437.85 L808.87 1437.95 L813.45 1438.05 L818.03 1438.17 L822.62 1438.28 L827.2 1438.4 L831.78 1438.51 L836.37 1438.63 L840.95 1438.74 L845.53 1438.86 L850.11 1438.97 L854.7 1439.09 L859.28 1439.2 L864.3 1439.2" stroke="#8000ff" stroke-width="1.8" fill="none" stroke-linejoin="round"/>
<path d="M153.5 866.77 L158.08 867.6 L162.66 868.71 L167.25 870.01 L171.83 871.44 L176.41 873.22 L181 875.53 L185.58 878.22 L190.16 881.16 L194.75 884.2 L199.33 887.45 L203.91 891.04 L208.49 894.9 L213.08 898.96 L217.66 903.16 L222.24 907.55 L226.83 912.21 L231.41 917.08 L235.99 922.11 L240.57 927.27 L245.16 932.58 L249.74 938.09 L254.32 943.77 L258.91 949.58 L263.49 955.48 L268.07 961.49 L272.66 967.66 L277.24 973.94 L281.82 980.31 L286.4 986.74 L290.99 993.24 L295.57 999.85 L300.15 1006.53 L304.74 1013.26 L309.32 1020 L313.9 1026.79 L318.49 1033.62 L323.07 1040.49 L327.65 1047.37 L332.24 1054.23 L336.82 1061.09 L341.4 1067.95 L345.98 1074.81 L350.57 1081.66 L355.15 1088.49 L359.73 1095.3 L364.32 1102.1 L368.9 1108.88 L373.48 1115.63 L378.06 1122.35 L382.65 1129.04 L387.23 1135.71 L391.81 1142.34 L396.4 1148.94 L400.98 1155.49 L405.56 1162 L410.15 1168.48 L414.73 1174.91 L419.31 1181.3 L423.9 1187.62 L428.48 1193.88 L433.06 1200.11 L437.64 1206.27 L442.23 1212.38 L446.81 1218.4 L451.39 1224.37 L455.98 1230.27 L460.56 1236.11 L465.14 1241.87 L469.73 1247.54 L474.31 1253.14 L478.89 1258.67 L483.47 1264.12 L488.06 1269.47 L492.64 1274.73 L497.22 1279.89 L501.81 1284.97 L506.39 1289.97 L510.97 1294.86 L515.56 1299.64 L520.14 1304.31 L524.72 1308.9 L529.3 1313.38 L533.89 1317.77 L538.47 1322.05 L543.05 1326.22 L547.64 1330.31 L552.22 1334.31 L556.8 1338.21 L561.38 1342 L565.97 1345.71 L570.55 1349.33 L575.13 1352.86 L579.72 1356.3 L584.3 1359.65 L588.88 1362.91 L593.47 1366.09 L598.05 1369.18 L602.63 1372.19 L607.22 1375.11 L611.8 1377.96 L616.38 1380.74 L620.96 1383.43 L625.55 1386.04 L630.13 1388.53 L634.71 1390.93 L639.3 1393.23 L643.88 1395.46 L648.46 1397.61 L653.05 1399.71 L657.63 1401.74 L662.21 1403.7 L666.79 1405.62 L671.38 1407.47 L675.96 1409.27 L680.54 1410.99 L685.13 1412.63 L689.71 1414.24 L694.29 1415.85 L698.88 1417.5 L703.46 1419.24 L708.04 1421.05 L712.62 1422.84 L717.21 1424.53 L721.79 1426.02 L726.37 1427.36 L730.96 1428.61 L735.54 1429.77 L740.12 1430.83 L744.71 1431.75 L749.29 1432.59 L753.87 1433.36 L758.45 1434.06 L763.04 1434.68 L767.62 1435.19 L772.2 1435.62 L776.79 1435.99 L781.37 1436.33 L785.95 1436.63 L790.54 1436.91 L795.12 1437.18 L799.7 1437.44 L804.28 1437.67 L808.87 1437.88 L813.45 1438.05 L818.03 1438.19 L822.62 1438.31 L827.2 1438.42 L831.78 1438.52 L836.37 1438.63 L840.95 1438.74 L845.53 1438.86 L850.11 1438.97 L854.7 1439.09 L859.28 1439.2 L864.3 1439.2" stroke="#0080ff" stroke-width="1.8" fill="none" stroke-linejoin="round"/>
<path d="M153.5 866.63 L158.08 867.21 L162.66 867.98 L167.25 868.9 L171.83 869.91 L176.41 871.17 L181 872.8 L185.58 874.71 L190.16 876.79 L194.75 878.94 L199.33 881.23 L203.91 883.76 L208.49 886.48 L213.08 889.35 L217.66 892.32 L222.24 895.44 L226.83 898.75 L231.41 902.23 L235.99 905.83 L240.57 909.53 L245.16 913.37 L249.74 917.36 L254.32 921.48 L258.91 925.72 L263.49 930.05 L268.07 934.49 L272.66 939.05 L277.24 943.73 L281.82 948.51 L286.4 953.35 L290.99 958.29 L295.57 963.33 L300.15 968.46 L304.74 973.66 L309.32 978.92 L313.9 984.24 L318.49 989.65 L323.07 995.13 L327.65 1000.66 L332.24 1006.22 L336.82 1011.84 L341.4 1017.52 L345.98 1023.24 L350.57 1029 L355.15 1034.78 L359.73 1040.61 L364.32 1046.47 L368.9 1052.37 L373.48 1058.29 L378.06 1064.22 L382.65 1070.18 L387.23 1076.17 L391.81 1082.17 L396.4 1088.18 L400.98 1094.2 L405.56 1100.22 L410.15 1106.26 L414.73 1112.3 L419.31 1118.34 L423.9 1124.37 L428.48 1130.39 L433.06 1136.42 L437.64 1142.43 L442.23 1148.43 L446.81 1154.4 L451.39 1160.35 L455.98 1166.29 L460.56 1172.2 L465.14 1178.09 L469.73 1183.93 L474.31 1189.75 L478.89 1195.53 L483.47 1201.28 L488.06 1206.99 L492.64 1212.64 L497.22 1218.24 L501.81 1223.81 L506.39 1229.32 L510.97 1234.78 L515.56 1240.17 L520.14 1245.5 L524.72 1250.78 L529.3 1255.99 L533.89 1261.15 L538.47 1266.23 L543.05 1271.25 L547.64 1276.22 L552.22 1281.12 L556.8 1285.95 L561.38 1290.71 L565.97 1295.41 L570.55 1300.05 L575.13 1304.62 L579.72 1309.12 L584.3 1313.55 L588.88 1317.9 L593.47 1322.2 L598.05 1326.43 L602.63 1330.59 L607.22 1334.66 L611.8 1338.67 L616.38 1342.61 L620.96 1346.49 L625.55 1350.28 L630.13 1354 L634.71 1357.64 L639.3 1361.22 L643.88 1364.72 L648.46 1368.14 L653.05 1371.48 L657.63 1374.76 L662.21 1377.97 L666.79 1381.1 L671.38 1384.14 L675.96 1387.05 L680.54 1389.87 L685.13 1392.59 L689.71 1395.23 L694.29 1397.77 L698.88 1400.21 L703.46 1402.57 L708.04 1404.85 L712.62 1407.05 L717.21 1409.17 L721.79 1411.21 L726.37 1413.18 L730.96 1415.09 L735.54 1416.93 L740.12 1418.69 L744.71 1420.37 L749.29 1422 L753.87 1423.6 L758.45 1425.12 L763.04 1426.51 L767.62 1427.74 L772.2 1428.83 L776.79 1429.83 L781.37 1430.75 L785.95 1431.58 L790.54 1432.33 L795.12 1432.99 L799.7 1433.6 L804.28 1434.15 L808.87 1434.68 L813.45 1435.19 L818.03 1435.71 L822.62 1436.22 L827.2 1436.7 L831.78 1437.13 L836.37 1437.48 L840.95 1437.78 L845.53 1438.05 L850.11 1438.29 L854.7 1438.48 L859.28 1438.63 L864.3 1438.63" stroke="#008000" stroke-width="1.8" fill="none" stroke-linejoin="round"/>
<path d="M126 872.6 L148.91 872.6 L153.5 872.22 L158.08 871.86 L162.66 871.51 L167.25 871.18 L171.83 870.87 L176.41 870.57 L181 870.29 L185.58 870.03 L190.16 869.77 L194.75 869.51 L199.33 869.26 L203.91 869.02 L208.49 868.79 L213.08 868.55 L217.66 868.32 L222.24 868.1 L226.83 867.87 L231.41 867.65 L235.99 867.44 L240.57 867.23 L245.16 867.01 L249.74 866.77 L254.32 866.54 L258.91 866.38 L263.49 866.31 L268.07 866.31 L272.66 866.3 L277.24 866.3 L281.82 866.3 L286.4 866.3 L290.99 866.37 L295.57 866.56 L300.15 866.85 L304.74 867.19 L309.32 867.56 L313.9 868.03 L318.49 868.67 L323.07 869.44 L327.65 870.31 L332.24 871.23 L336.82 872.27 L341.4 873.48 L345.98 874.83 L350.57 876.28 L355.15 877.82 L359.73 879.48 L364.32 881.3 L368.9 883.27 L373.48 885.35 L378.06 887.52 L382.65 889.81 L387.23 892.27 L391.81 894.86 L396.4 897.57 L400.98 900.39 L405.56 903.33 L410.15 906.43 L414.73 909.67 L419.31 913.03 L423.9 916.5 L428.48 920.11 L433.06 923.86 L437.64 927.76 L442.23 931.79 L446.81 935.93 L451.39 940.21 L455.98 944.64 L460.56 949.21 L465.14 953.92 L469.73 958.75 L474.31 963.71 L478.89 968.83 L483.47 974.09 L488.06 979.49 L492.64 985.02 L497.22 990.68 L501.81 996.51 L506.39 1002.48 L510.97 1008.58 L515.56 1014.81 L520.14 1021.19 L524.72 1027.72 L529.3 1034.39 L533.89 1041.18 L538.47 1048.06 L543.05 1055.05 L547.64 1062.17 L552.22 1069.4 L556.8 1076.71 L561.38 1084.08 L565.97 1091.53 L570.55 1099.08 L575.13 1106.7 L579.72 1114.37 L584.3 1122.07 L588.88 1129.81 L593.47 1137.62 L598.05 1145.47 L602.63 1153.33 L607.22 1161.2 L611.8 1169.07 L616.38 1176.98 L620.96 1184.89 L625.55 1192.79 L630.13 1200.65 L634.71 1208.49 L639.3 1216.33 L643.88 1224.14 L648.46 1231.91 L653.05 1239.61 L657.63 1247.25 L662.21 1254.86 L666.79 1262.42 L671.38 1269.89 L675.96 1277.25 L680.54 1284.54 L685.13 1291.76 L689.71 1298.89 L694.29 1305.9 L698.88 1312.77 L703.46 1319.53 L708.04 1326.19 L712.62 1332.74 L717.21 1339.13 L721.79 1345.34 L726.37 1351.4 L730.96 1357.35 L735.54 1363.14 L740.12 1368.75 L744.71 1374.14 L749.29 1379.44 L753.87 1384.66 L758.45 1389.68 L763.04 1394.34 L767.62 1398.51 L772.2 1402.26 L776.79 1405.77 L781.37 1409.01 L785.95 1411.94 L790.54 1414.55 L795.12 1416.81 L799.7 1418.82 L804.28 1420.67 L808.87 1422.47 L813.45 1424.3 L818.03 1426.27 L822.62 1428.31 L827.2 1430.27 L831.78 1432.04 L836.37 1433.47 L840.95 1434.66 L845.53 1435.74 L850.11 1436.7 L854.7 1437.48 L859.28 1438.05 L864.3 1438.05" stroke="#ff0000" stroke-width="1.8" fill="none" stroke-linejoin="round"/>
<path d="M126 1160.2 L148.91 1160.2 L153.5 1159.69 L158.08 1158.94 L162.66 1158.01 L167.25 1156.94 L171.83 1155.77 L176.41 1154.38 L181 1152.69 L185.58 1150.74 L190.16 1148.59 L194.75 1146.3 L199.33 1143.75 L203.91 1140.85 L208.49 1137.69 L213.08 1134.33 L217.66 1130.85 L222.24 1127.2 L226.83 1123.29 L231.41 1119.19 L235.99 1114.92 L240.57 1110.56 L245.16 1106.06 L249.74 1101.37 L254.32 1096.53 L258.91 1091.59 L263.49 1086.57 L268.07 1081.45 L272.66 1076.2 L277.24 1070.86 L281.82 1065.45 L286.4 1060 L290.99 1054.5 L295.57 1048.92 L300.15 1043.29 L304.74 1037.64 L309.32 1032 L313.9 1026.35 L318.49 1020.66 L323.07 1014.98 L327.65 1009.31 L332.24 1003.7 L336.82 998.12 L341.4 992.55 L345.98 987.03 L350.57 981.55 L355.15 976.15 L359.73 970.81 L364.32 965.51 L368.9 960.27 L373.48 955.11 L378.06 950.06 L382.65 945.08 L387.23 940.17 L391.81 935.34 L396.4 930.63 L400.98 926.04 L405.56 921.55 L410.15 917.15 L414.73 912.85 L419.31 908.7 L423.9 904.72 L428.48 900.85 L433.06 897.08 L437.64 893.45 L442.23 890.02 L446.81 886.85 L451.39 883.84 L455.98 880.93 L460.56 878.21 L465.14 875.79 L469.73 873.77 L474.31 871.91 L478.89 870.07 L483.47 868.48 L488.06 867.36 L492.64 866.94 L497.22 866.98 L501.81 867.1 L506.39 867.28 L510.97 867.53 L515.56 867.84 L520.14 868.66 L524.72 870.3 L529.3 872.52 L533.89 875.07 L538.47 877.72 L543.05 880.67 L547.64 884.18 L552.22 888.16 L556.8 892.48 L561.38 897.04 L565.97 901.96 L570.55 907.39 L575.13 913.27 L579.72 919.5 L584.3 926.03 L588.88 932.94 L593.47 940.35 L598.05 948.19 L602.63 956.4 L607.22 964.91 L611.8 973.82 L616.38 983.23 L620.96 993.03 L625.55 1003.17 L630.13 1013.54 L634.71 1024.23 L639.3 1035.32 L643.88 1046.73 L648.46 1058.39 L653.05 1070.22 L657.63 1082.29 L662.21 1094.65 L666.79 1107.24 L671.38 1120 L675.96 1132.86 L680.54 1145.9 L685.13 1159.16 L689.71 1172.54 L694.29 1185.98 L698.88 1199.37 L703.46 1212.88 L708.04 1226.55 L712.62 1240.16 L717.21 1253.51 L721.79 1266.36 L726.37 1278.91 L730.96 1291.32 L735.54 1303.35 L740.12 1314.74 L744.71 1325.23 L749.29 1334.99 L753.87 1344.27 L758.45 1352.99 L763.04 1361.07 L767.62 1368.43 L772.2 1375.18 L776.79 1381.49 L781.37 1387.34 L785.95 1392.73 L790.54 1397.67 L795.12 1402.25 L799.7 1406.55 L804.28 1410.53 L808.87 1414.14 L813.45 1417.36 L818.03 1420.21 L822.62 1422.81 L827.2 1425.19 L831.78 1427.4 L836.37 1429.46 L840.95 1431.42 L845.53 1433.28 L850.11 1435.01 L854.7 1436.61 L859.28 1438.05 L864.3 1438.05" stroke="#ff8000" stroke-width="1.8" fill="none" stroke-linejoin="round"/>
<path d="M126 1439.2V866.3H864.3V1439.2" fill="none" stroke="#000" stroke-width="2.2" stroke-linecap="square"/>
<path d="M126 1439.2h10.5 M864.3 1439.2h-10.5 M126 1381.91h5.5 M864.3 1381.91h-5.5 M126 1324.62h10.5 M864.3 1324.62h-10.5 M126 1267.33h5.5 M864.3 1267.33h-5.5 M126 1210.04h10.5 M864.3 1210.04h-10.5 M126 1152.75h5.5 M864.3 1152.75h-5.5 M126 1095.46h10.5 M864.3 1095.46h-10.5 M126 1038.17h5.5 M864.3 1038.17h-5.5 M126 980.88h10.5 M864.3 980.88h-10.5 M126 923.59h5.5 M864.3 923.59h-5.5 M126 866.3h10.5 M864.3 866.3h-10.5 M355.15 1439.2v-5.5 M584.3 1439.2v-10.5 M813.45 1439.2v-5.5 M199.83 866.3v5.5 M273.66 866.3v10.5 M347.49 866.3v5.5 M421.32 866.3v10.5 M495.15 866.3v5.5 M568.98 866.3v10.5 M642.81 866.3v5.5 M716.64 866.3v10.5 M790.47 866.3v5.5" stroke="#000" stroke-width="2" fill="none"/>
<text x="624" y="1398.9" font-size="26">m</text>
<text x="644" y="1410.5" font-size="15" fill="#333">p</text>
<path d="M655.3 1398.6L683.11 1425.63" stroke="#000" stroke-width="2"/>
<path d="M691 1433.3L678.47 1427.54L684.88 1420.94Z" fill="#000"/>
<text x="805" y="1397.8" font-size="26">m</text>
<text x="826.6" y="1408.3" font-size="15" fill="#333">q</text>
<path d="M827.6 1406L854.91 1431.15" stroke="#000" stroke-width="2"/>
<path d="M863 1438.6L850.32 1433.18L856.55 1426.41Z" fill="#000"/>
<text x="478.2" y="1603.9" text-anchor="middle" font-size="49" font-family="&apos;Liberation Serif&apos;, &apos;Times New Roman&apos;, serif">(c)</text>
<path d="M1026.5 1439.2H1764.8" stroke="#000" stroke-width="2.2" stroke-linecap="square"/>
<text x="1009.5" y="1449.6" text-anchor="end" font-size="33">0.0</text>
<text x="1009.5" y="1335.02" text-anchor="end" font-size="33">0.2</text>
<text x="1009.5" y="1220.44" text-anchor="end" font-size="33">0.4</text>
<text x="1009.5" y="1105.86" text-anchor="end" font-size="33">0.6</text>
<text x="1009.5" y="991.28" text-anchor="end" font-size="33">0.8</text>
<text x="1009.5" y="876.7" text-anchor="end" font-size="33">1.0</text>
<text x="1026.5" y="1485.2" text-anchor="middle" font-size="33">0</text>
<text x="1484.8" y="1485.2" text-anchor="middle" font-size="33">200</text>
<text x="1370.7" y="1520.9" text-anchor="middle" font-size="56">m</text>
<text transform="translate(943.4 1160.9) rotate(-90) scale(1.04 1)" text-anchor="middle" font-size="50">P[m]</text>
<rect x="1509" y="871.8" width="252.5" height="226.6" fill="none" stroke="#000" stroke-width="1.4"/>
<path d="M1514.9 898.8H1589.5" stroke="#8000ff" stroke-width="2.4"/>
<text x="1599.9" y="909.5" font-size="32.5"><tspan font-family="&apos;Liberation Serif&apos;, &apos;Times New Roman&apos;, serif" font-size="30">&#916;</tspan>r=0 <tspan font-family="&apos;Noto Serif CJK JP&apos;, &apos;Liberation Serif&apos;, serif" font-weight="300">&#956;</tspan>m</text>
<path d="M1514.9 943.83H1589.5" stroke="#0080ff" stroke-width="2.4"/>
<text x="1599.9" y="954.53" font-size="32.5"><tspan font-family="&apos;Liberation Serif&apos;, &apos;Times New Roman&apos;, serif" font-size="30">&#916;</tspan>r=100 <tspan font-family="&apos;Noto Serif CJK JP&apos;, &apos;Liberation Serif&apos;, serif" font-weight="300">&#956;</tspan>m</text>
<path d="M1514.9 988.86H1589.5" stroke="#008000" stroke-width="2.4"/>
<text x="1599.9" y="999.56" font-size="32.5"><tspan font-family="&apos;Liberation Serif&apos;, &apos;Times New Roman&apos;, serif" font-size="30">&#916;</tspan>r=150 <tspan font-family="&apos;Noto Serif CJK JP&apos;, &apos;Liberation Serif&apos;, serif" font-weight="300">&#956;</tspan>m</text>
<path d="M1514.9 1033.89H1589.5" stroke="#ff0000" stroke-width="2.4"/>
<text x="1599.9" y="1044.59" font-size="32.5"><tspan font-family="&apos;Liberation Serif&apos;, &apos;Times New Roman&apos;, serif" font-size="30">&#916;</tspan>r=200 <tspan font-family="&apos;Noto Serif CJK JP&apos;, &apos;Liberation Serif&apos;, serif" font-weight="300">&#956;</tspan>m</text>
<path d="M1514.9 1078.92H1589.5" stroke="#ff8000" stroke-width="2.4"/>
<text x="1599.9" y="1089.62" font-size="32.5"><tspan font-family="&apos;Liberation Serif&apos;, &apos;Times New Roman&apos;, serif" font-size="30">&#916;</tspan>r=250 <tspan font-family="&apos;Noto Serif CJK JP&apos;, &apos;Liberation Serif&apos;, serif" font-weight="300">&#956;</tspan>m</text>
<text x="1606.7" y="1154.9" font-size="43">z=6 m</text>
<path d="M1599.38 1439.2V866.3" stroke="#000" stroke-width="2" stroke-dasharray="2.6 9.05" stroke-dashoffset="1.3"/>
<path d="M1049.41 866.3 L1054 867.32 L1058.58 868.47 L1063.16 869.72 L1067.75 871.07 L1072.33 872.51 L1076.91 874.06 L1081.5 875.77 L1086.08 877.61 L1090.66 879.54 L1095.24 881.55 L1099.83 883.66 L1104.41 885.91 L1108.99 888.27 L1113.58 890.72 L1118.16 893.25 L1122.74 895.87 L1127.33 898.61 L1131.91 901.46 L1136.49 904.39 L1141.08 907.39 L1145.66 910.48 L1150.24 913.68 L1154.82 916.96 L1159.41 920.33 L1163.99 923.76 L1168.57 927.28 L1173.16 930.88 L1177.74 934.57 L1182.32 938.33 L1186.9 942.15 L1191.49 946.05 L1196.07 950.02 L1200.65 954.07 L1205.24 958.18 L1209.82 962.35 L1214.4 966.58 L1218.99 970.88 L1223.57 975.25 L1228.15 979.67 L1232.74 984.14 L1237.32 988.67 L1241.9 993.26 L1246.48 997.9 L1251.07 1002.59 L1255.65 1007.32 L1260.23 1012.1 L1264.82 1016.93 L1269.4 1021.81 L1273.98 1026.73 L1278.57 1031.68 L1283.15 1036.67 L1287.73 1041.7 L1292.31 1046.77 L1296.9 1051.87 L1301.48 1056.99 L1306.06 1062.15 L1310.65 1067.34 L1315.23 1072.56 L1319.81 1077.8 L1324.39 1083.06 L1328.98 1088.34 L1333.56 1093.65 L1338.14 1098.97 L1342.73 1104.31 L1347.31 1109.66 L1351.89 1115.03 L1356.48 1120.41 L1361.06 1125.8 L1365.64 1131.2 L1370.22 1136.6 L1374.81 1142 L1379.39 1147.41 L1383.97 1152.83 L1388.56 1158.24 L1393.14 1163.64 L1397.72 1169.05 L1402.31 1174.45 L1406.89 1179.84 L1411.47 1185.23 L1416.06 1190.6 L1420.64 1195.96 L1425.22 1201.3 L1429.8 1206.64 L1434.39 1211.95 L1438.97 1217.24 L1443.55 1222.51 L1448.14 1227.77 L1452.72 1233 L1457.3 1238.2 L1461.88 1243.37 L1466.47 1248.51 L1471.05 1253.63 L1475.63 1258.72 L1480.22 1263.77 L1484.8 1268.77 L1489.38 1273.74 L1493.97 1278.68 L1498.55 1283.58 L1503.13 1288.43 L1507.72 1293.23 L1512.3 1297.99 L1516.88 1302.7 L1521.46 1307.37 L1526.05 1311.98 L1530.63 1316.54 L1535.21 1321.03 L1539.8 1325.49 L1544.38 1329.88 L1548.96 1334.21 L1553.55 1338.48 L1558.13 1342.68 L1562.71 1346.82 L1567.29 1350.9 L1571.88 1354.91 L1576.46 1358.84 L1581.04 1362.69 L1585.63 1366.46 L1590.21 1370.17 L1594.79 1373.82 L1599.38 1377.42 L1603.96 1380.95 L1608.54 1384.4 L1613.12 1387.81 L1617.71 1391.21 L1622.29 1394.63 L1626.87 1398.17 L1631.46 1401.81 L1636.04 1405.4 L1640.62 1408.81 L1645.2 1411.91 L1649.79 1414.76 L1654.37 1417.5 L1658.95 1420.05 L1663.54 1422.34 L1668.12 1424.3 L1672.7 1426.01 L1677.29 1427.56 L1681.87 1428.95 L1686.45 1430.16 L1691.04 1431.18 L1695.62 1432.04 L1700.2 1432.79 L1704.78 1433.45 L1709.37 1434.05 L1713.95 1434.62 L1718.53 1435.14 L1723.12 1435.63 L1727.7 1436.08 L1732.28 1436.51 L1736.87 1436.91 L1741.45 1437.29 L1746.03 1437.66 L1750.61 1438 L1755.2 1438.33 L1759.78 1438.63 L1764.8 1438.63" stroke="#8000ff" stroke-width="1.8" fill="none" stroke-linejoin="round"/>
<path d="M1049.41 866.3 L1054 867.29 L1058.58 868.39 L1063.16 869.59 L1067.75 870.88 L1072.33 872.25 L1076.91 873.73 L1081.5 875.36 L1086.08 877.1 L1090.66 878.93 L1095.24 880.85 L1099.83 882.88 L1104.41 885.03 L1108.99 887.3 L1113.58 889.67 L1118.16 892.11 L1122.74 894.65 L1127.33 897.3 L1131.91 900.06 L1136.49 902.9 L1141.08 905.82 L1145.66 908.83 L1150.24 911.94 L1154.82 915.14 L1159.41 918.42 L1163.99 921.77 L1168.57 925.2 L1173.16 928.73 L1177.74 932.33 L1182.32 936.01 L1186.9 939.75 L1191.49 943.57 L1196.07 947.47 L1200.65 951.44 L1205.24 955.47 L1209.82 959.56 L1214.4 963.72 L1218.99 967.95 L1223.57 972.24 L1228.15 976.59 L1232.74 980.99 L1237.32 985.44 L1241.9 989.96 L1246.48 994.53 L1251.07 999.16 L1255.65 1003.82 L1260.23 1008.53 L1264.82 1013.29 L1269.4 1018.1 L1273.98 1022.95 L1278.57 1027.84 L1283.15 1032.76 L1287.73 1037.73 L1292.31 1042.73 L1296.9 1047.76 L1301.48 1052.82 L1306.06 1057.91 L1310.65 1063.04 L1315.23 1068.19 L1319.81 1073.36 L1324.39 1078.56 L1328.98 1083.77 L1333.56 1089.01 L1338.14 1094.26 L1342.73 1099.53 L1347.31 1104.81 L1351.89 1110.1 L1356.48 1115.41 L1361.06 1120.73 L1365.64 1126.05 L1370.22 1131.37 L1374.81 1136.7 L1379.39 1142.03 L1383.97 1147.36 L1388.56 1152.69 L1393.14 1158.01 L1397.72 1163.33 L1402.31 1168.64 L1406.89 1173.95 L1411.47 1179.24 L1416.06 1184.52 L1420.64 1189.78 L1425.22 1195.03 L1429.8 1200.26 L1434.39 1205.48 L1438.97 1210.68 L1443.55 1215.86 L1448.14 1221.02 L1452.72 1226.16 L1457.3 1231.28 L1461.88 1236.37 L1466.47 1241.44 L1471.05 1246.48 L1475.63 1251.51 L1480.22 1256.5 L1484.8 1261.47 L1489.38 1266.41 L1493.97 1271.32 L1498.55 1276.2 L1503.13 1281.05 L1507.72 1285.87 L1512.3 1290.65 L1516.88 1295.41 L1521.46 1300.13 L1526.05 1304.81 L1530.63 1309.45 L1535.21 1314.06 L1539.8 1318.63 L1544.38 1323.17 L1548.96 1327.66 L1553.55 1332.11 L1558.13 1336.52 L1562.71 1340.89 L1567.29 1345.21 L1571.88 1349.49 L1576.46 1353.72 L1581.04 1357.9 L1585.63 1362.03 L1590.21 1366.11 L1594.79 1370.16 L1599.38 1374.18 L1603.96 1378.18 L1608.54 1382.16 L1613.12 1386.1 L1617.71 1389.99 L1622.29 1393.8 L1626.87 1397.64 L1631.46 1401.52 L1636.04 1405.29 L1640.62 1408.81 L1645.2 1411.92 L1649.79 1414.7 L1654.37 1417.31 L1658.95 1419.7 L1663.54 1421.85 L1668.12 1423.73 L1672.7 1425.41 L1677.29 1426.96 L1681.87 1428.36 L1686.45 1429.58 L1691.04 1430.61 L1695.62 1431.45 L1700.2 1432.18 L1704.78 1432.82 L1709.37 1433.43 L1713.95 1434.04 L1718.53 1434.67 L1723.12 1435.3 L1727.7 1435.89 L1732.28 1436.44 L1736.87 1436.91 L1741.45 1437.33 L1746.03 1437.71 L1750.61 1438.06 L1755.2 1438.37 L1759.78 1438.63 L1764.8 1438.63" stroke="#0080ff" stroke-width="1.8" fill="none" stroke-linejoin="round"/>
<path d="M1049.41 866.3 L1054 867.49 L1058.58 868.7 L1063.16 869.94 L1067.75 871.19 L1072.33 872.47 L1076.91 873.75 L1081.5 875.04 L1086.08 876.36 L1090.66 877.73 L1095.24 879.17 L1099.83 880.68 L1104.41 882.25 L1108.99 883.89 L1113.58 885.62 L1118.16 887.44 L1122.74 889.37 L1127.33 891.42 L1131.91 893.58 L1136.49 895.85 L1141.08 898.23 L1145.66 900.76 L1150.24 903.45 L1154.82 906.27 L1159.41 909.21 L1163.99 912.23 L1168.57 915.36 L1173.16 918.63 L1177.74 922.02 L1182.32 925.49 L1186.9 929.03 L1191.49 932.66 L1196.07 936.39 L1200.65 940.2 L1205.24 944.08 L1209.82 948 L1214.4 951.99 L1218.99 956.04 L1223.57 960.15 L1228.15 964.31 L1232.74 968.49 L1237.32 972.7 L1241.9 976.96 L1246.48 981.26 L1251.07 985.58 L1255.65 989.94 L1260.23 994.33 L1264.82 998.75 L1269.4 1003.21 L1273.98 1007.69 L1278.57 1012.21 L1283.15 1016.75 L1287.73 1021.33 L1292.31 1025.94 L1296.9 1030.58 L1301.48 1035.25 L1306.06 1039.94 L1310.65 1044.67 L1315.23 1049.42 L1319.81 1054.2 L1324.39 1059.01 L1328.98 1063.85 L1333.56 1068.71 L1338.14 1073.6 L1342.73 1078.52 L1347.31 1083.46 L1351.89 1088.43 L1356.48 1093.42 L1361.06 1098.44 L1365.64 1103.48 L1370.22 1108.54 L1374.81 1113.63 L1379.39 1118.74 L1383.97 1123.88 L1388.56 1129.04 L1393.14 1134.22 L1397.72 1139.42 L1402.31 1144.64 L1406.89 1149.89 L1411.47 1155.15 L1416.06 1160.44 L1420.64 1165.74 L1425.22 1171.06 L1429.8 1176.41 L1434.39 1181.76 L1438.97 1187.12 L1443.55 1192.49 L1448.14 1197.87 L1452.72 1203.26 L1457.3 1208.65 L1461.88 1214.03 L1466.47 1219.42 L1471.05 1224.8 L1475.63 1230.18 L1480.22 1235.55 L1484.8 1240.91 L1489.38 1246.25 L1493.97 1251.59 L1498.55 1256.91 L1503.13 1262.21 L1507.72 1267.48 L1512.3 1272.73 L1516.88 1277.96 L1521.46 1283.17 L1526.05 1288.35 L1530.63 1293.48 L1535.21 1298.59 L1539.8 1303.66 L1544.38 1308.7 L1548.96 1313.7 L1553.55 1318.64 L1558.13 1323.54 L1562.71 1328.41 L1567.29 1333.23 L1571.88 1337.99 L1576.46 1342.69 L1581.04 1347.34 L1585.63 1351.94 L1590.21 1356.49 L1594.79 1360.97 L1599.38 1365.37 L1603.96 1369.67 L1608.54 1373.89 L1613.12 1378.06 L1617.71 1382.18 L1622.29 1386.3 L1626.87 1390.51 L1631.46 1394.81 L1636.04 1399.02 L1640.62 1403 L1645.2 1406.59 L1649.79 1409.89 L1654.37 1413.03 L1658.95 1415.94 L1663.54 1418.57 L1668.12 1420.83 L1672.7 1422.8 L1677.29 1424.59 L1681.87 1426.2 L1686.45 1427.63 L1691.04 1428.89 L1695.62 1429.99 L1700.2 1430.97 L1704.78 1431.85 L1709.37 1432.68 L1713.95 1433.47 L1718.53 1434.26 L1723.12 1435.03 L1727.7 1435.75 L1732.28 1436.38 L1736.87 1436.91 L1741.45 1437.35 L1746.03 1437.76 L1750.61 1438.12 L1755.2 1438.41 L1759.78 1438.63 L1764.8 1438.63" stroke="#008000" stroke-width="1.8" fill="none" stroke-linejoin="round"/>
<path d="M1049.41 866.3 L1054 866.94 L1058.58 867.62 L1063.16 868.36 L1067.75 869.13 L1072.33 869.95 L1076.91 870.81 L1081.5 871.72 L1086.08 872.69 L1090.66 873.71 L1095.24 874.78 L1099.83 875.92 L1104.41 877.12 L1108.99 878.39 L1113.58 879.71 L1118.16 881.09 L1122.74 882.52 L1127.33 884.02 L1131.91 885.58 L1136.49 887.2 L1141.08 888.87 L1145.66 890.6 L1150.24 892.4 L1154.82 894.26 L1159.41 896.18 L1163.99 898.15 L1168.57 900.18 L1173.16 902.28 L1177.74 904.45 L1182.32 906.67 L1186.9 908.94 L1191.49 911.28 L1196.07 913.68 L1200.65 916.15 L1205.24 918.68 L1209.82 921.26 L1214.4 923.9 L1218.99 926.62 L1223.57 929.39 L1228.15 932.23 L1232.74 935.12 L1237.32 938.07 L1241.9 941.09 L1246.48 944.18 L1251.07 947.32 L1255.65 950.53 L1260.23 953.8 L1264.82 957.13 L1269.4 960.53 L1273.98 963.99 L1278.57 967.51 L1283.15 971.09 L1287.73 974.74 L1292.31 978.46 L1296.9 982.23 L1301.48 986.07 L1306.06 989.97 L1310.65 993.94 L1315.23 997.98 L1319.81 1002.07 L1324.39 1006.23 L1328.98 1010.46 L1333.56 1014.75 L1338.14 1019.1 L1342.73 1023.52 L1347.31 1028.01 L1351.89 1032.55 L1356.48 1037.17 L1361.06 1041.85 L1365.64 1046.6 L1370.22 1051.41 L1374.81 1056.28 L1379.39 1061.23 L1383.97 1066.24 L1388.56 1071.31 L1393.14 1076.45 L1397.72 1081.66 L1402.31 1086.93 L1406.89 1092.28 L1411.47 1097.68 L1416.06 1103.15 L1420.64 1108.69 L1425.22 1114.29 L1429.8 1119.96 L1434.39 1125.69 L1438.97 1131.45 L1443.55 1137.27 L1448.14 1143.14 L1452.72 1149.07 L1457.3 1155.03 L1461.88 1161.02 L1466.47 1167.04 L1471.05 1173.1 L1475.63 1179.2 L1480.22 1185.31 L1484.8 1191.44 L1489.38 1197.58 L1493.97 1203.75 L1498.55 1209.94 L1503.13 1216.13 L1507.72 1222.31 L1512.3 1228.5 L1516.88 1234.69 L1521.46 1240.89 L1526.05 1247.07 L1530.63 1253.23 L1535.21 1259.38 L1539.8 1265.52 L1544.38 1271.64 L1548.96 1277.73 L1553.55 1283.79 L1558.13 1289.81 L1562.71 1295.81 L1567.29 1301.78 L1571.88 1307.71 L1576.46 1313.57 L1581.04 1319.4 L1585.63 1325.19 L1590.21 1330.93 L1594.79 1336.6 L1599.38 1342.19 L1603.96 1347.71 L1608.54 1353.19 L1613.12 1358.6 L1617.71 1363.89 L1622.29 1369.04 L1626.87 1374.09 L1631.46 1379.07 L1636.04 1383.92 L1640.62 1388.61 L1645.2 1393.09 L1649.79 1397.54 L1654.37 1402.02 L1658.95 1406.26 L1663.54 1410.02 L1668.12 1413.05 L1672.7 1415.44 L1677.29 1417.5 L1681.87 1419.32 L1686.45 1420.98 L1691.04 1422.59 L1695.62 1424.12 L1700.2 1425.56 L1704.78 1426.91 L1709.37 1428.2 L1713.95 1429.46 L1718.53 1430.73 L1723.12 1432.01 L1727.7 1433.22 L1732.28 1434.31 L1736.87 1435.19 L1741.45 1435.93 L1746.03 1436.61 L1750.61 1437.21 L1755.2 1437.7 L1759.78 1438.05 L1764.8 1438.05" stroke="#ff0000" stroke-width="1.8" fill="none" stroke-linejoin="round"/>
<path d="M1058.58 866.73 L1063.16 866.93 L1067.75 867.13 L1072.33 867.33 L1076.91 867.51 L1081.5 867.68 L1086.08 867.85 L1090.66 868.02 L1095.24 868.22 L1099.83 868.43 L1104.41 868.66 L1108.99 868.91 L1113.58 869.18 L1118.16 869.46 L1122.74 869.78 L1127.33 870.11 L1131.91 870.48 L1136.49 870.87 L1141.08 871.29 L1145.66 871.74 L1150.24 872.23 L1154.82 872.76 L1159.41 873.32 L1163.99 873.91 L1168.57 874.55 L1173.16 875.24 L1177.74 875.97 L1182.32 876.75 L1186.9 877.56 L1191.49 878.43 L1196.07 879.36 L1200.65 880.34 L1205.24 881.37 L1209.82 882.46 L1214.4 883.6 L1218.99 884.81 L1223.57 886.09 L1228.15 887.43 L1232.74 888.82 L1237.32 890.28 L1241.9 891.83 L1246.48 893.44 L1251.07 895.13 L1255.65 896.88 L1260.23 898.7 L1264.82 900.62 L1269.4 902.62 L1273.98 904.69 L1278.57 906.85 L1283.15 909.08 L1287.73 911.42 L1292.31 913.84 L1296.9 916.35 L1301.48 918.95 L1306.06 921.64 L1310.65 924.44 L1315.23 927.34 L1319.81 930.33 L1324.39 933.42 L1328.98 936.6 L1333.56 939.91 L1338.14 943.32 L1342.73 946.84 L1347.31 950.46 L1351.89 954.19 L1356.48 958.05 L1361.06 962.03 L1365.64 966.12 L1370.22 970.31 L1374.81 974.63 L1379.39 979.09 L1383.97 983.67 L1388.56 988.37 L1393.14 993.19 L1397.72 998.15 L1402.31 1003.24 L1406.89 1008.48 L1411.47 1013.84 L1416.06 1019.32 L1420.64 1024.94 L1425.22 1030.72 L1429.8 1036.63 L1434.39 1042.66 L1438.97 1048.79 L1443.55 1055.04 L1448.14 1061.42 L1452.72 1067.92 L1457.3 1074.52 L1461.88 1081.19 L1466.47 1087.96 L1471.05 1094.84 L1475.63 1101.81 L1480.22 1108.86 L1484.8 1115.97 L1489.38 1123.15 L1493.97 1130.42 L1498.55 1137.76 L1503.13 1145.15 L1507.72 1152.58 L1512.3 1160.07 L1516.88 1167.61 L1521.46 1175.21 L1526.05 1182.84 L1530.63 1190.48 L1535.21 1198.16 L1539.8 1205.88 L1544.38 1213.62 L1548.96 1221.37 L1553.55 1229.12 L1558.13 1236.89 L1562.71 1244.66 L1567.29 1252.44 L1571.88 1260.21 L1576.46 1267.96 L1581.04 1275.7 L1585.63 1283.44 L1590.21 1291.16 L1594.79 1298.84 L1599.38 1306.45 L1603.96 1314.03 L1608.54 1321.61 L1613.12 1329.11 L1617.71 1336.48 L1622.29 1343.64 L1626.87 1350.68 L1631.46 1357.64 L1636.04 1364.42 L1640.62 1370.92 L1645.2 1377.04 L1649.79 1382.96 L1654.37 1388.8 L1658.95 1394.3 L1663.54 1399.24 L1668.12 1403.35 L1672.7 1406.77 L1677.29 1409.8 L1681.87 1412.51 L1686.45 1414.95 L1691.04 1417.19 L1695.62 1419.24 L1700.2 1421.11 L1704.78 1422.84 L1709.37 1424.46 L1713.95 1426.02 L1718.53 1427.54 L1723.12 1428.99 L1727.7 1430.37 L1732.28 1431.68 L1736.87 1432.9 L1741.45 1434.05 L1746.03 1435.15 L1750.61 1436.19 L1755.2 1437.16 L1759.78 1438.05 L1764.8 1438.05" stroke="#ff8000" stroke-width="1.8" fill="none" stroke-linejoin="round"/>
<path d="M1026.5 1439.2V866.3H1764.8V1439.2" fill="none" stroke="#000" stroke-width="2.2" stroke-linecap="square"/>
<path d="M1026.5 1439.2h10.5 M1764.8 1439.2h-10.5 M1026.5 1381.91h5.5 M1764.8 1381.91h-5.5 M1026.5 1324.62h10.5 M1764.8 1324.62h-10.5 M1026.5 1267.33h5.5 M1764.8 1267.33h-5.5 M1026.5 1210.04h10.5 M1764.8 1210.04h-10.5 M1026.5 1152.75h5.5 M1764.8 1152.75h-5.5 M1026.5 1095.46h10.5 M1764.8 1095.46h-10.5 M1026.5 1038.17h5.5 M1764.8 1038.17h-5.5 M1026.5 980.88h10.5 M1764.8 980.88h-10.5 M1026.5 923.59h5.5 M1764.8 923.59h-5.5 M1026.5 866.3h10.5 M1764.8 866.3h-10.5 M1255.65 1439.2v-5.5 M1484.8 1439.2v-10.5 M1713.95 1439.2v-5.5 M1100.33 866.3v5.5 M1174.16 866.3v10.5 M1247.99 866.3v5.5 M1321.82 866.3v10.5 M1395.65 866.3v5.5 M1469.48 866.3v10.5 M1543.31 866.3v5.5 M1617.14 866.3v10.5 M1690.97 866.3v5.5" stroke="#000" stroke-width="2" fill="none"/>
<text x="1524.5" y="1398.9" font-size="26">m</text>
<text x="1544.5" y="1410.5" font-size="15" fill="#333">p</text>
<path d="M1555.8 1398.6L1583.61 1425.63" stroke="#000" stroke-width="2"/>
<path d="M1591.5 1433.3L1578.97 1427.54L1585.38 1420.94Z" fill="#000"/>
<text x="1705.5" y="1397.8" font-size="26">m</text>
<text x="1727.1" y="1408.3" font-size="15" fill="#333">q</text>
<path d="M1728.1 1406L1755.41 1431.15" stroke="#000" stroke-width="2"/>
<path d="M1763.5 1438.6L1750.82 1433.18L1757.05 1426.41Z" fill="#000"/>
<text x="1360" y="1603.9" text-anchor="middle" font-size="49" font-family="&apos;Liberation Serif&apos;, &apos;Times New Roman&apos;, serif">(d)</text>
<path d="M575.9 2244.3H1314.2" stroke="#000" stroke-width="2.2" stroke-linecap="square"/>
<text x="558.9" y="2254.7" text-anchor="end" font-size="33">0.0</text>
<text x="558.9" y="2140.12" text-anchor="end" font-size="33">0.2</text>
<text x="558.9" y="2025.54" text-anchor="end" font-size="33">0.4</text>
<text x="558.9" y="1910.96" text-anchor="end" font-size="33">0.6</text>
<text x="558.9" y="1796.38" text-anchor="end" font-size="33">0.8</text>
<text x="558.9" y="1681.8" text-anchor="end" font-size="33">1.0</text>
<text x="575.9" y="2290.3" text-anchor="middle" font-size="33">0</text>
<text x="1034.2" y="2290.3" text-anchor="middle" font-size="33">200</text>
<text x="920.1" y="2326" text-anchor="middle" font-size="56">m</text>
<text transform="translate(492.8 1966) rotate(-90) scale(1.04 1)" text-anchor="middle" font-size="50">P[m]</text>
<rect x="1058.4" y="1676.9" width="252.5" height="226.6" fill="none" stroke="#000" stroke-width="1.4"/>
<path d="M1064.3 1703.9H1138.9" stroke="#8000ff" stroke-width="2.4"/>
<text x="1149.3" y="1714.6" font-size="32.5"><tspan font-family="&apos;Liberation Serif&apos;, &apos;Times New Roman&apos;, serif" font-size="30">&#916;</tspan>r=0 <tspan font-family="&apos;Noto Serif CJK JP&apos;, &apos;Liberation Serif&apos;, serif" font-weight="300">&#956;</tspan>m</text>
<path d="M1064.3 1748.93H1138.9" stroke="#0080ff" stroke-width="2.4"/>
<text x="1149.3" y="1759.63" font-size="32.5"><tspan font-family="&apos;Liberation Serif&apos;, &apos;Times New Roman&apos;, serif" font-size="30">&#916;</tspan>r=100 <tspan font-family="&apos;Noto Serif CJK JP&apos;, &apos;Liberation Serif&apos;, serif" font-weight="300">&#956;</tspan>m</text>
<path d="M1064.3 1793.96H1138.9" stroke="#008000" stroke-width="2.4"/>
<text x="1149.3" y="1804.66" font-size="32.5"><tspan font-family="&apos;Liberation Serif&apos;, &apos;Times New Roman&apos;, serif" font-size="30">&#916;</tspan>r=150 <tspan font-family="&apos;Noto Serif CJK JP&apos;, &apos;Liberation Serif&apos;, serif" font-weight="300">&#956;</tspan>m</text>
<path d="M1064.3 1838.99H1138.9" stroke="#ff0000" stroke-width="2.4"/>
<text x="1149.3" y="1849.69" font-size="32.5"><tspan font-family="&apos;Liberation Serif&apos;, &apos;Times New Roman&apos;, serif" font-size="30">&#916;</tspan>r=200 <tspan font-family="&apos;Noto Serif CJK JP&apos;, &apos;Liberation Serif&apos;, serif" font-weight="300">&#956;</tspan>m</text>
<path d="M1064.3 1884.02H1138.9" stroke="#ff8000" stroke-width="2.4"/>
<text x="1149.3" y="1894.72" font-size="32.5"><tspan font-family="&apos;Liberation Serif&apos;, &apos;Times New Roman&apos;, serif" font-size="30">&#916;</tspan>r=250 <tspan font-family="&apos;Noto Serif CJK JP&apos;, &apos;Liberation Serif&apos;, serif" font-weight="300">&#956;</tspan>m</text>
<text x="1156.1" y="1960" font-size="43">z=15 m</text>
<path d="M1148.78 2244.3V1671.4" stroke="#000" stroke-width="2" stroke-dasharray="2.6 9.05" stroke-dashoffset="1.3"/>
<path d="M603.4 1672.34 L607.98 1672.77 L612.56 1673.3 L617.15 1673.89 L621.73 1674.53 L626.31 1675.28 L630.9 1676.16 L635.48 1677.16 L640.06 1678.23 L644.64 1679.35 L649.23 1680.54 L653.81 1681.84 L658.39 1683.23 L662.98 1684.7 L667.56 1686.22 L672.14 1687.83 L676.73 1689.53 L681.31 1691.31 L685.89 1693.17 L690.48 1695.09 L695.06 1697.08 L699.64 1699.16 L704.22 1701.33 L708.81 1703.56 L713.39 1705.86 L717.97 1708.22 L722.56 1710.67 L727.14 1713.2 L731.72 1715.8 L736.3 1718.45 L740.89 1721.18 L745.47 1723.98 L750.05 1726.86 L754.64 1729.8 L759.22 1732.81 L763.8 1735.87 L768.39 1739.02 L772.97 1742.23 L777.55 1745.5 L782.13 1748.83 L786.72 1752.23 L791.3 1755.69 L795.88 1759.22 L800.47 1762.81 L805.05 1766.45 L809.63 1770.16 L814.22 1773.93 L818.8 1777.76 L823.38 1781.65 L827.96 1785.6 L832.55 1789.6 L837.13 1793.66 L841.71 1797.78 L846.3 1801.96 L850.88 1806.18 L855.46 1810.46 L860.05 1814.8 L864.63 1819.19 L869.21 1823.64 L873.8 1828.13 L878.38 1832.67 L882.96 1837.27 L887.54 1841.92 L892.13 1846.62 L896.71 1851.36 L901.29 1856.16 L905.88 1861 L910.46 1865.89 L915.04 1870.83 L919.62 1875.81 L924.21 1880.83 L928.79 1885.9 L933.37 1891.02 L937.96 1896.18 L942.54 1901.38 L947.12 1906.62 L951.71 1911.91 L956.29 1917.24 L960.87 1922.61 L965.45 1928.01 L970.04 1933.45 L974.62 1938.94 L979.2 1944.46 L983.79 1950.01 L988.37 1955.58 L992.95 1961.19 L997.54 1966.83 L1002.12 1972.49 L1006.7 1978.17 L1011.28 1983.87 L1015.87 1989.58 L1020.45 1995.32 L1025.03 2001.07 L1029.62 2006.83 L1034.2 2012.6 L1038.78 2018.37 L1043.37 2024.15 L1047.95 2029.94 L1052.53 2035.73 L1057.12 2041.51 L1061.7 2047.28 L1066.28 2053.06 L1070.86 2058.83 L1075.45 2064.59 L1080.03 2070.33 L1084.61 2076.05 L1089.2 2081.77 L1093.78 2087.47 L1098.36 2093.15 L1102.95 2098.8 L1107.53 2104.42 L1112.11 2110.02 L1116.69 2115.6 L1121.28 2121.15 L1125.86 2126.65 L1130.44 2132.12 L1135.03 2137.56 L1139.61 2142.97 L1144.19 2148.32 L1148.78 2153.62 L1153.36 2158.85 L1157.94 2164.03 L1162.52 2169.15 L1167.11 2174.23 L1171.69 2179.27 L1176.27 2184.33 L1180.86 2189.43 L1185.44 2194.45 L1190.02 2199.27 L1194.61 2203.77 L1199.19 2208.07 L1203.77 2212.27 L1208.35 2216.24 L1212.94 2219.84 L1217.52 2222.94 L1222.1 2225.63 L1226.69 2228.09 L1231.27 2230.31 L1235.85 2232.28 L1240.43 2234.01 L1245.02 2235.57 L1249.6 2237.01 L1254.18 2238.3 L1258.77 2239.41 L1263.35 2240.32 L1267.93 2241.06 L1272.52 2241.71 L1277.1 2242.28 L1281.68 2242.76 L1286.26 2243.18 L1290.85 2243.55 L1295.43 2243.89 L1300.01 2244.19 L1304.6 2244.43 L1309.18 2244.61 L1314.2 2244.61" stroke="#8000ff" stroke-width="1.8" fill="none" stroke-linejoin="round"/>
<path d="M603.4 1672.54 L607.98 1672.97 L612.56 1673.5 L617.15 1674.09 L621.73 1674.73 L626.31 1675.48 L630.9 1676.36 L635.48 1677.36 L640.06 1678.43 L644.64 1679.55 L649.23 1680.74 L653.81 1682.04 L658.39 1683.43 L662.98 1684.9 L667.56 1686.42 L672.14 1688.03 L676.73 1689.73 L681.31 1691.51 L685.89 1693.37 L690.48 1695.29 L695.06 1697.28 L699.64 1699.36 L704.22 1701.53 L708.81 1703.76 L713.39 1706.06 L717.97 1708.42 L722.56 1710.87 L727.14 1713.4 L731.72 1716 L736.3 1718.65 L740.89 1721.38 L745.47 1724.18 L750.05 1727.06 L754.64 1730 L759.22 1733.01 L763.8 1736.07 L768.39 1739.22 L772.97 1742.43 L777.55 1745.7 L782.13 1749.03 L786.72 1752.43 L791.3 1755.89 L795.88 1759.42 L800.47 1763.01 L805.05 1766.65 L809.63 1770.36 L814.22 1774.13 L818.8 1777.96 L823.38 1781.85 L827.96 1785.8 L832.55 1789.8 L837.13 1793.86 L841.71 1797.98 L846.3 1802.16 L850.88 1806.38 L855.46 1810.66 L860.05 1815 L864.63 1819.39 L869.21 1823.84 L873.8 1828.33 L878.38 1832.87 L882.96 1837.47 L887.54 1842.12 L892.13 1846.82 L896.71 1851.56 L901.29 1856.36 L905.88 1861.2 L910.46 1866.09 L915.04 1871.03 L919.62 1876.01 L924.21 1881.03 L928.79 1886.1 L933.37 1891.22 L937.96 1896.38 L942.54 1901.58 L947.12 1906.82 L951.71 1912.11 L956.29 1917.44 L960.87 1922.81 L965.45 1928.21 L970.04 1933.65 L974.62 1939.14 L979.2 1944.66 L983.79 1950.21 L988.37 1955.78 L992.95 1961.39 L997.54 1967.03 L1002.12 1972.69 L1006.7 1978.37 L1011.28 1984.07 L1015.87 1989.78 L1020.45 1995.52 L1025.03 2001.27 L1029.62 2007.03 L1034.2 2012.8 L1038.78 2018.57 L1043.37 2024.35 L1047.95 2030.14 L1052.53 2035.93 L1057.12 2041.71 L1061.7 2047.48 L1066.28 2053.26 L1070.86 2059.03 L1075.45 2064.79 L1080.03 2070.53 L1084.61 2076.25 L1089.2 2081.97 L1093.78 2087.67 L1098.36 2093.35 L1102.95 2099 L1107.53 2104.62 L1112.11 2110.22 L1116.69 2115.8 L1121.28 2121.35 L1125.86 2126.85 L1130.44 2132.32 L1135.03 2137.76 L1139.61 2143.17 L1144.19 2148.52 L1148.78 2153.82 L1153.36 2159.05 L1157.94 2164.23 L1162.52 2169.35 L1167.11 2174.43 L1171.69 2179.47 L1176.27 2184.53 L1180.86 2189.63 L1185.44 2194.65 L1190.02 2199.47 L1194.61 2203.97 L1199.19 2208.27 L1203.77 2212.47 L1208.35 2216.44 L1212.94 2220.04 L1217.52 2223.14 L1222.1 2225.83 L1226.69 2228.29 L1231.27 2230.51 L1235.85 2232.48 L1240.43 2234.21 L1245.02 2235.77 L1249.6 2237.21 L1254.18 2238.5 L1258.77 2239.61 L1263.35 2240.52 L1267.93 2241.26 L1272.52 2241.91 L1277.1 2242.48 L1281.68 2242.96 L1286.26 2243.38 L1290.85 2243.75 L1295.43 2244.09 L1300.01 2244.39 L1304.6 2244.63 L1309.18 2244.81 L1314.2 2244.81" stroke="#0080ff" stroke-width="1.8" fill="none" stroke-linejoin="round"/>
<path d="M603.4 1672.14 L607.98 1672.57 L612.56 1673.1 L617.15 1673.69 L621.73 1674.33 L626.31 1675.08 L630.9 1675.96 L635.48 1676.96 L640.06 1678.03 L644.64 1679.15 L649.23 1680.34 L653.81 1681.64 L658.39 1683.03 L662.98 1684.5 L667.56 1686.02 L672.14 1687.63 L676.73 1689.33 L681.31 1691.11 L685.89 1692.97 L690.48 1694.89 L695.06 1696.88 L699.64 1698.96 L704.22 1701.13 L708.81 1703.36 L713.39 1705.66 L717.97 1708.02 L722.56 1710.47 L727.14 1713 L731.72 1715.6 L736.3 1718.25 L740.89 1720.98 L745.47 1723.78 L750.05 1726.66 L754.64 1729.6 L759.22 1732.61 L763.8 1735.67 L768.39 1738.82 L772.97 1742.03 L777.55 1745.3 L782.13 1748.63 L786.72 1752.03 L791.3 1755.49 L795.88 1759.02 L800.47 1762.61 L805.05 1766.25 L809.63 1769.96 L814.22 1773.73 L818.8 1777.56 L823.38 1781.45 L827.96 1785.4 L832.55 1789.4 L837.13 1793.46 L841.71 1797.58 L846.3 1801.76 L850.88 1805.98 L855.46 1810.26 L860.05 1814.6 L864.63 1818.99 L869.21 1823.44 L873.8 1827.93 L878.38 1832.47 L882.96 1837.07 L887.54 1841.72 L892.13 1846.42 L896.71 1851.16 L901.29 1855.96 L905.88 1860.8 L910.46 1865.69 L915.04 1870.63 L919.62 1875.61 L924.21 1880.63 L928.79 1885.7 L933.37 1890.82 L937.96 1895.98 L942.54 1901.18 L947.12 1906.42 L951.71 1911.71 L956.29 1917.04 L960.87 1922.41 L965.45 1927.81 L970.04 1933.25 L974.62 1938.74 L979.2 1944.26 L983.79 1949.81 L988.37 1955.38 L992.95 1960.99 L997.54 1966.63 L1002.12 1972.29 L1006.7 1977.97 L1011.28 1983.67 L1015.87 1989.38 L1020.45 1995.12 L1025.03 2000.87 L1029.62 2006.63 L1034.2 2012.4 L1038.78 2018.17 L1043.37 2023.95 L1047.95 2029.74 L1052.53 2035.53 L1057.12 2041.31 L1061.7 2047.08 L1066.28 2052.86 L1070.86 2058.63 L1075.45 2064.39 L1080.03 2070.13 L1084.61 2075.85 L1089.2 2081.57 L1093.78 2087.27 L1098.36 2092.95 L1102.95 2098.6 L1107.53 2104.22 L1112.11 2109.82 L1116.69 2115.4 L1121.28 2120.95 L1125.86 2126.45 L1130.44 2131.92 L1135.03 2137.36 L1139.61 2142.77 L1144.19 2148.12 L1148.78 2153.42 L1153.36 2158.65 L1157.94 2163.83 L1162.52 2168.95 L1167.11 2174.03 L1171.69 2179.07 L1176.27 2184.13 L1180.86 2189.23 L1185.44 2194.25 L1190.02 2199.07 L1194.61 2203.57 L1199.19 2207.87 L1203.77 2212.07 L1208.35 2216.04 L1212.94 2219.64 L1217.52 2222.74 L1222.1 2225.43 L1226.69 2227.89 L1231.27 2230.11 L1235.85 2232.08 L1240.43 2233.81 L1245.02 2235.37 L1249.6 2236.81 L1254.18 2238.1 L1258.77 2239.21 L1263.35 2240.12 L1267.93 2240.86 L1272.52 2241.51 L1277.1 2242.08 L1281.68 2242.56 L1286.26 2242.98 L1290.85 2243.35 L1295.43 2243.69 L1300.01 2243.99 L1304.6 2244.23 L1309.18 2244.41 L1314.2 2244.41" stroke="#008000" stroke-width="1.8" fill="none" stroke-linejoin="round"/>
<path d="M603.4 1671.94 L607.98 1672.37 L612.56 1672.9 L617.15 1673.49 L621.73 1674.13 L626.31 1674.88 L630.9 1675.76 L635.48 1676.76 L640.06 1677.83 L644.64 1678.95 L649.23 1680.14 L653.81 1681.44 L658.39 1682.83 L662.98 1684.3 L667.56 1685.82 L672.14 1687.43 L676.73 1689.13 L681.31 1690.91 L685.89 1692.77 L690.48 1694.69 L695.06 1696.68 L699.64 1698.76 L704.22 1700.93 L708.81 1703.16 L713.39 1705.46 L717.97 1707.82 L722.56 1710.27 L727.14 1712.8 L731.72 1715.4 L736.3 1718.05 L740.89 1720.78 L745.47 1723.58 L750.05 1726.46 L754.64 1729.4 L759.22 1732.41 L763.8 1735.47 L768.39 1738.62 L772.97 1741.83 L777.55 1745.1 L782.13 1748.43 L786.72 1751.83 L791.3 1755.29 L795.88 1758.82 L800.47 1762.41 L805.05 1766.05 L809.63 1769.76 L814.22 1773.53 L818.8 1777.36 L823.38 1781.25 L827.96 1785.2 L832.55 1789.2 L837.13 1793.26 L841.71 1797.38 L846.3 1801.56 L850.88 1805.78 L855.46 1810.06 L860.05 1814.4 L864.63 1818.79 L869.21 1823.24 L873.8 1827.73 L878.38 1832.27 L882.96 1836.87 L887.54 1841.52 L892.13 1846.22 L896.71 1850.96 L901.29 1855.76 L905.88 1860.6 L910.46 1865.49 L915.04 1870.43 L919.62 1875.41 L924.21 1880.43 L928.79 1885.5 L933.37 1890.62 L937.96 1895.78 L942.54 1900.98 L947.12 1906.22 L951.71 1911.51 L956.29 1916.84 L960.87 1922.21 L965.45 1927.61 L970.04 1933.05 L974.62 1938.54 L979.2 1944.06 L983.79 1949.61 L988.37 1955.18 L992.95 1960.79 L997.54 1966.43 L1002.12 1972.09 L1006.7 1977.77 L1011.28 1983.47 L1015.87 1989.18 L1020.45 1994.92 L1025.03 2000.67 L1029.62 2006.43 L1034.2 2012.2 L1038.78 2017.97 L1043.37 2023.75 L1047.95 2029.54 L1052.53 2035.33 L1057.12 2041.11 L1061.7 2046.88 L1066.28 2052.66 L1070.86 2058.43 L1075.45 2064.19 L1080.03 2069.93 L1084.61 2075.65 L1089.2 2081.37 L1093.78 2087.07 L1098.36 2092.75 L1102.95 2098.4 L1107.53 2104.02 L1112.11 2109.62 L1116.69 2115.2 L1121.28 2120.75 L1125.86 2126.25 L1130.44 2131.72 L1135.03 2137.16 L1139.61 2142.57 L1144.19 2147.92 L1148.78 2153.22 L1153.36 2158.45 L1157.94 2163.63 L1162.52 2168.75 L1167.11 2173.83 L1171.69 2178.87 L1176.27 2183.93 L1180.86 2189.03 L1185.44 2194.05 L1190.02 2198.87 L1194.61 2203.37 L1199.19 2207.67 L1203.77 2211.87 L1208.35 2215.84 L1212.94 2219.44 L1217.52 2222.54 L1222.1 2225.23 L1226.69 2227.69 L1231.27 2229.91 L1235.85 2231.88 L1240.43 2233.61 L1245.02 2235.17 L1249.6 2236.61 L1254.18 2237.9 L1258.77 2239.01 L1263.35 2239.92 L1267.93 2240.66 L1272.52 2241.31 L1277.1 2241.88 L1281.68 2242.36 L1286.26 2242.78 L1290.85 2243.15 L1295.43 2243.49 L1300.01 2243.79 L1304.6 2244.03 L1309.18 2244.21 L1314.2 2244.21" stroke="#ff0000" stroke-width="1.8" fill="none" stroke-linejoin="round"/>
<path d="M603.4 1671.74 L607.98 1672.17 L612.56 1672.7 L617.15 1673.29 L621.73 1673.93 L626.31 1674.68 L630.9 1675.56 L635.48 1676.56 L640.06 1677.63 L644.64 1678.75 L649.23 1679.94 L653.81 1681.24 L658.39 1682.63 L662.98 1684.1 L667.56 1685.62 L672.14 1687.23 L676.73 1688.93 L681.31 1690.71 L685.89 1692.57 L690.48 1694.49 L695.06 1696.48 L699.64 1698.56 L704.22 1700.73 L708.81 1702.96 L713.39 1705.26 L717.97 1707.62 L722.56 1710.07 L727.14 1712.6 L731.72 1715.2 L736.3 1717.85 L740.89 1720.58 L745.47 1723.38 L750.05 1726.26 L754.64 1729.2 L759.22 1732.21 L763.8 1735.27 L768.39 1738.42 L772.97 1741.63 L777.55 1744.9 L782.13 1748.23 L786.72 1751.63 L791.3 1755.09 L795.88 1758.62 L800.47 1762.21 L805.05 1765.85 L809.63 1769.56 L814.22 1773.33 L818.8 1777.16 L823.38 1781.05 L827.96 1785 L832.55 1789 L837.13 1793.06 L841.71 1797.18 L846.3 1801.36 L850.88 1805.58 L855.46 1809.86 L860.05 1814.2 L864.63 1818.59 L869.21 1823.04 L873.8 1827.53 L878.38 1832.07 L882.96 1836.67 L887.54 1841.32 L892.13 1846.02 L896.71 1850.76 L901.29 1855.56 L905.88 1860.4 L910.46 1865.29 L915.04 1870.23 L919.62 1875.21 L924.21 1880.23 L928.79 1885.3 L933.37 1890.42 L937.96 1895.58 L942.54 1900.78 L947.12 1906.02 L951.71 1911.31 L956.29 1916.64 L960.87 1922.01 L965.45 1927.41 L970.04 1932.85 L974.62 1938.34 L979.2 1943.86 L983.79 1949.41 L988.37 1954.98 L992.95 1960.59 L997.54 1966.23 L1002.12 1971.89 L1006.7 1977.57 L1011.28 1983.27 L1015.87 1988.98 L1020.45 1994.72 L1025.03 2000.47 L1029.62 2006.23 L1034.2 2012 L1038.78 2017.77 L1043.37 2023.55 L1047.95 2029.34 L1052.53 2035.13 L1057.12 2040.91 L1061.7 2046.68 L1066.28 2052.46 L1070.86 2058.23 L1075.45 2063.99 L1080.03 2069.73 L1084.61 2075.45 L1089.2 2081.17 L1093.78 2086.87 L1098.36 2092.55 L1102.95 2098.2 L1107.53 2103.82 L1112.11 2109.42 L1116.69 2115 L1121.28 2120.55 L1125.86 2126.05 L1130.44 2131.52 L1135.03 2136.96 L1139.61 2142.37 L1144.19 2147.72 L1148.78 2153.02 L1153.36 2158.25 L1157.94 2163.43 L1162.52 2168.55 L1167.11 2173.63 L1171.69 2178.67 L1176.27 2183.73 L1180.86 2188.83 L1185.44 2193.85 L1190.02 2198.67 L1194.61 2203.17 L1199.19 2207.47 L1203.77 2211.67 L1208.35 2215.64 L1212.94 2219.24 L1217.52 2222.34 L1222.1 2225.03 L1226.69 2227.49 L1231.27 2229.71 L1235.85 2231.68 L1240.43 2233.41 L1245.02 2234.97 L1249.6 2236.41 L1254.18 2237.7 L1258.77 2238.81 L1263.35 2239.72 L1267.93 2240.46 L1272.52 2241.11 L1277.1 2241.68 L1281.68 2242.16 L1286.26 2242.58 L1290.85 2242.95 L1295.43 2243.29 L1300.01 2243.59 L1304.6 2243.83 L1309.18 2244.01 L1314.2 2244.01" stroke="#ff8000" stroke-width="1.8" fill="none" stroke-linejoin="round"/>
<path d="M575.9 2244.3V1671.4H1314.2V2244.3" fill="none" stroke="#000" stroke-width="2.2" stroke-linecap="square"/>
<path d="M575.9 2244.3h10.5 M1314.2 2244.3h-10.5 M575.9 2187.01h5.5 M1314.2 2187.01h-5.5 M575.9 2129.72h10.5 M1314.2 2129.72h-10.5 M575.9 2072.43h5.5 M1314.2 2072.43h-5.5 M575.9 2015.14h10.5 M1314.2 2015.14h-10.5 M575.9 1957.85h5.5 M1314.2 1957.85h-5.5 M575.9 1900.56h10.5 M1314.2 1900.56h-10.5 M575.9 1843.27h5.5 M1314.2 1843.27h-5.5 M575.9 1785.98h10.5 M1314.2 1785.98h-10.5 M575.9 1728.69h5.5 M1314.2 1728.69h-5.5 M575.9 1671.4h10.5 M1314.2 1671.4h-10.5 M805.05 2244.3v-5.5 M1034.2 2244.3v-10.5 M1263.35 2244.3v-5.5 M649.73 1671.4v5.5 M723.56 1671.4v10.5 M797.39 1671.4v5.5 M871.22 1671.4v10.5 M945.05 1671.4v5.5 M1018.88 1671.4v10.5 M1092.71 1671.4v5.5 M1166.54 1671.4v10.5 M1240.37 1671.4v5.5" stroke="#000" stroke-width="2" fill="none"/>
<text x="1073.9" y="2204" font-size="26">m</text>
<text x="1093.9" y="2215.6" font-size="15" fill="#333">p</text>
<path d="M1105.2 2203.7L1133.01 2230.73" stroke="#000" stroke-width="2"/>
<path d="M1140.9 2238.4L1128.37 2232.64L1134.78 2226.04Z" fill="#000"/>
<text x="1254.9" y="2202.9" font-size="26">m</text>
<text x="1276.5" y="2213.4" font-size="15" fill="#333">q</text>
<path d="M1277.5 2211.1L1304.81 2236.25" stroke="#000" stroke-width="2"/>
<path d="M1312.9 2243.7L1300.22 2238.28L1306.45 2231.51Z" fill="#000"/>
<text x="912.6" y="2409" text-anchor="middle" font-size="49" font-family="&apos;Liberation Serif&apos;, &apos;Times New Roman&apos;, serif">(e)</text>
</svg>
</body></html>
